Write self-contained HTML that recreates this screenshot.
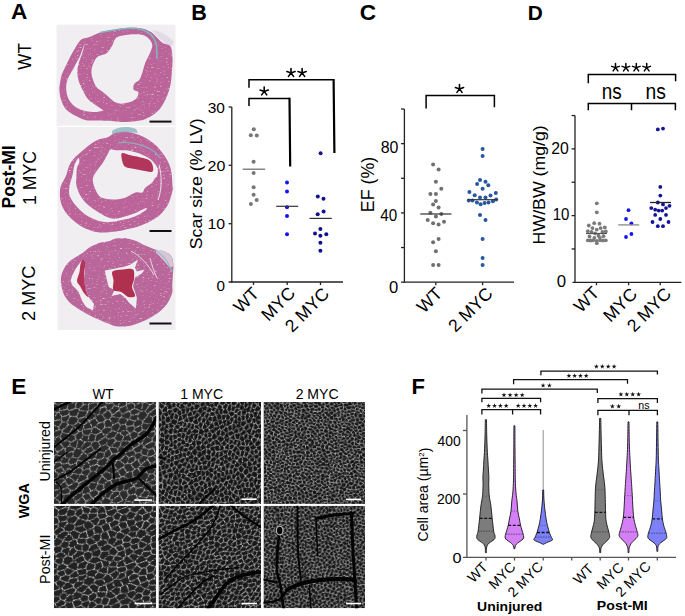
<!DOCTYPE html><html><head><meta charset="utf-8"><title>Figure</title><style>html,body{margin:0;padding:0;background:#fff;width:685px;height:616px;overflow:hidden}svg{display:block}text{font-family:"Liberation Sans",sans-serif}</style></head><body>
<svg width="685" height="616" viewBox="0 0 685 616">
<rect width="685" height="616" fill="#fff"/>
<rect x="56.6" y="24.7" width="118.8" height="101" fill="#f0eef1"/>
<rect x="57.6" y="127" width="117.8" height="203" fill="#f0eef1"/>
<defs><filter id="tex" x="0" y="0" width="1" height="1" color-interpolation-filters="sRGB"><feTurbulence type="fractalNoise" baseFrequency="0.35 0.7" numOctaves="2" seed="2" result="n"/><feColorMatrix in="n" type="matrix" values="0 0 0 0 1 0 0 0 0 0.93 0 0 0 0 0.97 2.6 0 0 0 -1.62" result="w"/><feComposite in="w" in2="SourceAlpha" operator="in" result="ws"/><feMerge><feMergeNode in="SourceGraphic"/><feMergeNode in="ws"/></feMerge></filter></defs>
<path d="M59.9 84.0 C60.3 81.4 60.8 77.6 61.8 74.6 C62.8 71.6 64.2 69.0 65.7 65.9 C67.2 62.8 69.0 59.2 70.6 56.1 C72.2 53.0 73.7 50.1 75.5 47.4 C77.3 44.6 79.2 41.2 81.3 39.6 C83.4 38.0 85.5 38.6 88.1 37.6 C90.7 36.6 94.1 34.8 96.9 33.7 C99.7 32.7 101.5 32.0 104.7 31.3 C107.9 30.6 112.5 30.1 116.0 29.5 C119.5 28.9 121.7 28.2 125.7 28.0 C129.8 27.8 136.2 27.7 140.3 28.3 C144.4 28.9 147.3 30.0 150.1 31.5 C152.9 33.0 154.8 35.6 156.9 37.5 C159.0 39.4 160.4 41.5 162.7 43.0 C165.0 44.5 168.9 43.9 170.5 46.4 C172.1 48.9 172.2 54.2 172.5 58.1 C172.8 62.0 172.3 65.6 172.0 70.0 C171.7 74.4 171.4 80.0 170.5 84.6 C169.6 89.1 168.4 93.2 166.6 97.3 C164.8 101.3 162.6 105.7 159.8 108.9 C157.1 112.1 153.3 114.8 150.1 116.7 C146.8 118.7 144.4 119.7 140.3 120.6 C136.2 121.5 129.8 122.0 125.7 122.1 C121.7 122.2 121.1 121.7 116.0 121.4 C110.9 121.2 100.1 120.8 95.0 120.6 C89.9 120.4 88.5 120.9 85.2 120.1 C82.0 119.3 78.8 117.7 75.5 115.8 C72.2 113.9 68.1 111.7 65.7 108.9 C63.3 106.1 62.0 102.4 60.9 99.2 C59.8 96.0 59.6 92.5 59.4 90.0 C59.2 87.5 59.5 86.6 59.9 84.0Z" fill="#ba649a" filter="url(#tex)"/>
<path d="M116.0 38.0 C118.3 36.2 121.7 35.6 125.7 35.0 C129.8 34.4 136.6 34.1 140.3 34.6 C144.0 35.1 146.1 36.4 148.1 38.0 C150.1 39.6 151.7 42.5 152.2 44.5 C152.7 46.5 151.9 47.9 151.2 50.0 C150.5 52.1 149.1 54.9 148.1 57.1 C147.1 59.3 146.2 60.4 145.2 63.0 C144.2 65.6 143.3 69.9 142.3 72.7 C141.3 75.5 140.7 77.9 139.4 79.7 C138.1 81.5 135.5 82.0 134.5 83.6 C133.5 85.2 132.8 88.0 133.5 89.5 C134.2 91.0 138.1 90.8 138.4 92.4 C138.7 94.0 137.6 97.4 135.5 99.2 C133.4 101.0 128.9 102.5 125.7 103.1 C122.5 103.7 119.5 104.2 116.0 102.6 C112.5 101.0 107.9 95.9 104.7 93.4 C101.5 90.9 98.9 89.8 96.9 87.5 C95.0 85.2 93.9 82.6 93.0 79.7 C92.1 76.8 91.2 73.1 91.5 70.0 C91.8 66.9 93.3 63.3 94.5 61.0 C95.7 58.7 96.8 57.4 98.8 56.1 C100.8 54.8 104.4 54.9 106.6 53.2 C108.8 51.5 110.4 48.5 112.0 46.0 C113.6 43.5 113.7 39.8 116.0 38.0Z" fill="#f0eef1" />
<path d="M84.7 43.5 C84.4 43.8 81.5 52.3 80.3 55.2 C79.1 58.1 78.7 58.5 77.4 61.0 C76.1 63.5 74.2 66.9 72.6 70.0 C70.9 73.1 68.6 76.5 67.5 79.7 C66.4 83.0 66.0 86.2 66.2 89.5 C66.4 92.8 67.2 96.3 68.7 99.2 C70.2 102.1 72.8 105.0 75.5 107.0 C78.2 109.0 82.0 110.1 85.2 110.9 C88.5 111.7 92.2 111.9 95.0 111.9 C97.8 111.9 100.5 111.2 101.8 110.9 C103.1 110.6 103.5 110.7 102.7 109.9 C101.9 109.1 99.3 107.8 96.9 106.0 C94.5 104.2 90.5 102.0 88.1 99.2 C85.7 96.5 83.9 92.8 82.3 89.5 C80.7 86.2 79.2 83.0 78.4 79.7 C77.6 76.5 77.2 73.1 77.4 70.0 C77.6 66.9 78.6 63.8 79.4 61.0 C80.2 58.2 81.4 56.1 82.3 53.2 C83.2 50.3 85.0 43.2 84.7 43.5Z" fill="#f0eef1" />
<path d="M152 30 C160 31 168 35 174 42 L172 46 C166 44 160 40 156 35Z" fill="#e2dbe5"/>
<path d="M100 32.5 C108 31 118 29 129.5 28.3 C138 28 144 30 148 32.5 C152 35 155 39 156.5 45 L157 59" fill="none" stroke="#80b5be" stroke-width="1.6"/>
<path d="M60.9 186.0 C61.9 182.8 64.4 179.8 65.7 176.6 C67.0 173.4 67.6 169.7 68.7 166.9 C69.8 164.2 71.0 162.2 72.6 160.1 C74.2 158.0 76.3 156.1 78.4 154.2 C80.5 152.2 82.8 150.3 85.2 148.4 C87.6 146.5 90.6 144.2 93.0 142.6 C95.4 141.0 97.4 140.0 99.8 139.1 C102.2 138.2 104.9 138.3 107.6 137.2 C110.3 136.1 113.0 133.4 116.0 132.5 C119.0 131.6 122.5 131.3 125.7 131.5 C128.9 131.7 132.2 132.8 135.5 133.8 C138.8 134.8 141.9 135.9 145.2 137.7 C148.4 139.5 152.1 141.9 155.0 144.5 C157.9 147.1 160.4 150.2 162.7 153.3 C165.0 156.4 167.1 159.8 168.6 163.0 C170.1 166.2 170.8 168.9 171.5 172.7 C172.2 176.5 172.3 183.0 172.5 186.0 C172.7 189.0 173.2 187.7 172.5 190.6 C171.8 193.5 170.4 199.6 168.6 203.3 C166.8 207.0 164.4 210.2 161.8 213.0 C159.2 215.8 156.6 217.7 153.0 219.8 C149.4 221.9 144.9 224.1 140.3 225.7 C135.8 227.3 129.8 228.6 125.7 229.6 C121.7 230.6 120.3 231.0 116.0 231.5 C111.7 232.0 104.5 232.8 99.8 232.5 C95.1 232.2 91.8 231.1 88.1 229.6 C84.4 228.1 80.8 226.1 77.4 223.7 C74.0 221.3 70.3 218.1 67.7 215.0 C65.1 211.9 63.1 208.4 61.8 205.2 C60.5 201.9 60.0 198.7 59.9 195.5 C59.8 192.3 59.9 189.2 60.9 186.0Z" fill="#ba649a" filter="url(#tex)"/>
<path d="M116.0 150.3 C118.5 150.5 122.5 150.0 125.7 150.3 C128.9 150.6 132.6 151.5 135.5 152.3 C138.4 153.1 140.9 154.1 143.3 155.2 C145.7 156.3 148.2 157.6 150.1 159.1 C152.0 160.6 153.7 162.2 155.0 164.0 C156.3 165.8 157.6 167.7 157.9 169.8 C158.2 171.9 157.4 175.2 156.9 176.6 C156.4 178.0 155.8 177.0 155.0 178.0 C154.2 179.0 153.6 181.2 152.0 182.8 C150.4 184.4 146.8 186.1 145.2 187.7 C143.6 189.3 143.9 191.8 142.3 192.6 C140.7 193.4 138.3 191.8 135.5 192.6 C132.7 193.4 128.9 196.3 125.7 197.4 C122.5 198.5 119.5 199.2 116.0 199.4 C112.5 199.6 107.6 199.1 104.7 198.4 C101.8 197.8 100.6 197.6 98.8 195.5 C97.0 193.4 95.0 188.9 94.0 186.0 C93.0 183.1 92.5 180.5 93.0 178.0 C93.5 175.5 95.3 173.3 96.9 170.8 C98.5 168.3 100.9 165.8 102.7 163.0 C104.5 160.2 106.3 156.5 107.6 154.2 C108.9 151.9 109.1 150.1 110.5 149.4 C111.9 148.8 113.5 150.2 116.0 150.3Z" fill="#f0eef1" />
<path d="M78.4 158.1 C77.6 158.6 75.5 162.2 74.5 165.0 C73.5 167.8 73.4 171.2 72.6 174.7 C71.8 178.1 70.1 182.2 69.6 185.7 C69.1 189.2 68.6 192.2 69.6 195.5 C70.6 198.8 73.2 202.3 75.5 205.2 C77.8 208.1 80.4 210.7 83.3 213.0 C86.2 215.3 89.8 217.3 93.0 218.8 C96.2 220.3 99.5 221.3 102.7 221.8 C106.0 222.3 109.0 222.2 112.5 221.8 C116.0 221.4 120.2 220.4 124.0 219.5 C127.8 218.6 131.8 217.8 135.5 216.2 C139.2 214.6 144.4 211.3 146.0 210.0 C147.6 208.7 146.8 208.0 145.0 208.5 C143.2 209.0 139.0 211.6 135.5 213.0 C132.0 214.4 127.5 215.8 124.0 216.8 C120.5 217.8 117.6 219.0 114.4 218.8 C111.2 218.7 107.9 217.4 104.7 215.9 C101.5 214.4 98.1 212.2 95.0 210.1 C91.9 208.0 88.7 205.7 86.2 203.3 C83.8 200.9 81.9 198.4 80.3 195.5 C78.7 192.6 77.2 188.9 76.5 185.7 C75.8 182.4 76.3 178.9 76.4 176.0 C76.5 173.1 76.5 170.3 77.0 168.0 C77.5 165.7 79.2 163.7 79.4 162.0 C79.6 160.3 79.2 157.6 78.4 158.1Z" fill="#f0eef1" />
<path d="M121.8 153.3 C123.1 152.0 127.0 154.4 130.6 155.2 C134.2 156.0 140.1 157.1 143.3 158.1 C146.6 159.1 148.5 159.6 150.1 161.1 C151.7 162.6 152.7 165.1 153.0 166.9 C153.3 168.7 153.6 171.2 152.0 171.8 C150.4 172.5 146.4 171.3 143.3 170.8 C140.2 170.3 136.4 169.5 133.5 168.8 C130.6 168.2 127.5 167.9 125.7 166.9 C123.9 165.9 123.5 165.3 122.8 163.0 C122.1 160.7 120.5 154.6 121.8 153.3Z" fill="#b2355b" />
<path d="M112 131 C118 126.5 128 126 136 129 L138 133 C130 132 120 132 112 134Z" fill="#8cb4bf" opacity="0.8"/>
<path d="M118 143 C130 141 145 145 155 152 L160 158" fill="none" stroke="#8cb8c2" stroke-width="1.2" opacity="0.8"/>
<path d="M159 165 C162 175 162 190 158 200" fill="none" stroke="#f0eef1" stroke-width="1" opacity="0.9"/>
<path d="M60.9 278.7 C61.1 274.9 62.5 271.8 63.8 269.0 C65.1 266.2 66.8 264.1 68.7 262.2 C70.7 260.2 73.1 258.9 75.5 257.3 C77.9 255.7 80.7 254.2 83.3 252.4 C85.9 250.6 88.2 248.2 91.0 246.6 C93.8 245.0 96.9 243.6 99.8 242.7 C102.7 241.8 105.9 242.0 108.6 241.3 C111.3 240.6 113.2 239.0 116.0 238.5 C118.8 238.0 122.5 237.8 125.7 238.2 C128.9 238.6 132.2 239.6 135.5 240.8 C138.8 242.0 141.9 244.2 145.2 245.6 C148.4 247.0 151.8 248.5 155.0 249.5 C158.2 250.5 161.9 250.3 164.7 251.5 C167.4 252.7 170.1 254.1 171.5 256.4 C172.9 258.7 173.2 261.9 173.4 265.1 C173.6 268.3 173.0 272.5 172.8 275.8 C172.6 279.1 172.5 281.9 172.3 285.0 C172.1 288.1 173.1 290.6 171.8 294.3 C170.5 298.0 168.2 303.1 164.5 307.1 C160.8 311.1 155.4 315.1 149.9 318.1 C144.4 321.2 137.2 324.0 131.6 325.4 C125.9 326.8 119.8 326.5 116.0 326.2 C112.2 325.9 111.8 324.9 108.6 323.6 C105.4 322.4 100.8 320.5 96.9 318.7 C93.0 316.9 88.8 314.8 85.2 312.9 C81.6 311.0 78.4 309.2 75.5 307.1 C72.6 305.0 69.8 302.8 67.7 300.2 C65.6 297.6 63.9 295.1 62.8 291.5 C61.7 287.9 60.7 282.4 60.9 278.7Z" fill="#b9669b" filter="url(#tex)"/>
<path d="M156 249.5 C163 250 169 253 172 257 L173.5 266 L170 268 C165 262 160 256 156 253Z" fill="#dcd0dc" opacity="0.9"/>
<path d="M155 250 C163 255 169 262 172 272" fill="none" stroke="#8fbcc6" stroke-width="1.4" opacity="0.8"/>
<path d="M104.8 270.6 L115.5 268.6 L124.2 266.7 L130.1 264.7 L137.9 259.4 L135.0 267.7 L136.9 271.6 L144.7 269.6 L141.8 273.5 L135.0 277.4 L133.0 286.2 L135.0 292.0 L136.9 297.8 L135.9 308.6 L129.1 302.7 L125.2 297.8 L120.3 294.0 L111.6 295.9 L114.5 290.0 L108.7 287.1 L106.7 279.3Z" fill="#f0eef1" />
<path d="M112.6 271.6 C114.2 269.8 119.9 269.9 123.3 269.6 C126.7 269.3 131.2 268.0 133.0 269.6 C134.8 271.2 134.2 276.4 134.0 279.3 C133.8 282.2 131.8 284.3 132.0 287.1 C132.2 289.9 135.7 294.3 135.0 295.9 C134.3 297.5 130.4 297.5 128.1 296.9 C125.8 296.2 123.7 293.1 121.3 292.0 C118.9 290.9 114.8 291.9 113.5 290.0 C112.2 288.1 113.7 283.4 113.5 280.3 C113.3 277.2 111.0 273.4 112.6 271.6Z" fill="#b0304f" />
<path d="M70.6 280.8 L72.6 285.6 L78.4 291.5 L82.3 301.2 L86.2 307.1 L93.0 310.5 L94.0 304.1 L88.1 296.3 L85.2 289.5 L84.0 280.0 L85.2 264.1 L83.3 259.3 L80.3 262.2 L75.5 269.0 L72.0 276.0Z" fill="#f3eef2" />
<path d="M83.3 259.3 C84.1 259.3 85.1 261.5 85.2 264.1 C85.3 266.7 84.0 270.9 84.0 275.0 C84.0 279.1 84.8 285.3 85.5 289.0 C86.2 292.7 88.8 296.3 88.5 297.0 C88.2 297.7 85.4 294.8 84.0 293.0 C82.6 291.2 81.2 288.0 80.0 286.0 C78.8 284.0 77.1 283.3 77.0 281.0 C76.9 278.7 78.9 274.8 79.5 272.0 C80.1 269.2 79.9 266.1 80.5 264.0 C81.1 261.9 82.5 259.3 83.3 259.3Z" fill="#b3345a" />
<path d="M131 251 C140 256 148 264 154 275 M150 258 C152 266 154 272 157 278" fill="none" stroke="#e9dfe8" stroke-width="1" opacity="0.9"/>
<rect x="149.5" y="120.6" width="22" height="2" fill="#111"/>
<rect x="149.5" y="230.0" width="22" height="2" fill="#111"/>
<rect x="149.5" y="322.5" width="22" height="2" fill="#111"/>
<line x1="231.8" y1="107" x2="231.8" y2="282.65" stroke="#222" stroke-width="1.3"/>
<line x1="228.60000000000002" y1="107" x2="231.8" y2="107" stroke="#222" stroke-width="1.3"/>
<line x1="228.60000000000002" y1="165.3" x2="231.8" y2="165.3" stroke="#222" stroke-width="1.3"/>
<line x1="228.60000000000002" y1="223.7" x2="231.8" y2="223.7" stroke="#222" stroke-width="1.3"/>
<line x1="228.6" y1="282" x2="343" y2="282" stroke="#222" stroke-width="1.3"/>
<line x1="253.5" y1="282" x2="253.5" y2="285.0" stroke="#222" stroke-width="1.3"/>
<line x1="287.2" y1="282" x2="287.2" y2="285.0" stroke="#222" stroke-width="1.3"/>
<line x1="320.5" y1="282" x2="320.5" y2="285.0" stroke="#222" stroke-width="1.3"/>
<path d="M249.0 87.7 V79.7 H334.2" fill="none" stroke="#000" stroke-width="1.5"/>
<path d="M249.0 105.9 V98.4 H289.8" fill="none" stroke="#000" stroke-width="1.5"/>
<path d="M333.6 79.0 L334.4 153.0 M289.5 97.7 L290.2 166.5" fill="none" stroke="#000" stroke-width="2.2"/>
<path d="M291.00 72.90L291.00 68.60M291.00 72.90L295.09 71.57M291.00 72.90L293.53 76.38M291.00 72.90L288.47 76.38M291.00 72.90L286.91 71.57" stroke="#000" stroke-width="1.6" stroke-linecap="round" fill="none"/>
<path d="M302.10 72.90L302.10 68.60M302.10 72.90L306.19 71.57M302.10 72.90L304.63 76.38M302.10 72.90L299.57 76.38M302.10 72.90L298.01 71.57" stroke="#000" stroke-width="1.6" stroke-linecap="round" fill="none"/>
<path d="M264.20 91.40L264.20 87.10M264.20 91.40L268.29 90.07M264.20 91.40L266.73 94.88M264.20 91.40L261.67 94.88M264.20 91.40L260.11 90.07" stroke="#000" stroke-width="1.6" stroke-linecap="round" fill="none"/>
<circle cx="253.8" cy="129.3" r="2.0" fill="#777777"/>
<circle cx="250.8" cy="135.3" r="2.0" fill="#777777"/>
<circle cx="256.8" cy="135.6" r="2.0" fill="#777777"/>
<circle cx="253.6" cy="161.8" r="2.0" fill="#777777"/>
<circle cx="253.6" cy="173.1" r="2.0" fill="#777777"/>
<circle cx="253.6" cy="187.2" r="2.0" fill="#777777"/>
<circle cx="253.6" cy="194.8" r="2.0" fill="#777777"/>
<circle cx="256.7" cy="200.0" r="2.0" fill="#777777"/>
<circle cx="250.9" cy="204.0" r="2.0" fill="#777777"/>
<circle cx="287.0" cy="182.4" r="2.0" fill="#1414f0"/>
<circle cx="287.0" cy="191.6" r="2.0" fill="#1414f0"/>
<circle cx="287.0" cy="207.3" r="2.0" fill="#1414f0"/>
<circle cx="287.0" cy="216.0" r="2.0" fill="#1414f0"/>
<circle cx="287.0" cy="234.3" r="2.0" fill="#1414f0"/>
<circle cx="320.6" cy="153.3" r="2.0" fill="#12128e"/>
<circle cx="317.8" cy="196.4" r="2.0" fill="#12128e"/>
<circle cx="323.5" cy="198.8" r="2.0" fill="#12128e"/>
<circle cx="323.6" cy="211.5" r="2.0" fill="#12128e"/>
<circle cx="317.7" cy="214.3" r="2.0" fill="#12128e"/>
<circle cx="320.4" cy="228.9" r="2.0" fill="#12128e"/>
<circle cx="315.0" cy="233.6" r="2.0" fill="#12128e"/>
<circle cx="320.4" cy="235.7" r="2.0" fill="#12128e"/>
<circle cx="326.3" cy="234.3" r="2.0" fill="#12128e"/>
<circle cx="320.4" cy="242.7" r="2.0" fill="#12128e"/>
<circle cx="320.4" cy="250.7" r="2.0" fill="#12128e"/>
<line x1="242.7" y1="169.2" x2="265.1" y2="169.2" stroke="#666" stroke-width="1.2"/>
<line x1="276.2" y1="206.3" x2="298.2" y2="206.3" stroke="#333" stroke-width="1.2"/>
<line x1="309.5" y1="218.4" x2="331.8" y2="218.4" stroke="#333" stroke-width="1.2"/>
<line x1="404.4" y1="109" x2="404.4" y2="282.84999999999997" stroke="#222" stroke-width="1.3"/>
<line x1="401.0" y1="247.56" x2="404.4" y2="247.56" stroke="#222" stroke-width="1.3"/>
<line x1="401.0" y1="212.92" x2="404.4" y2="212.92" stroke="#222" stroke-width="1.3"/>
<line x1="401.0" y1="178.27999999999997" x2="404.4" y2="178.27999999999997" stroke="#222" stroke-width="1.3"/>
<line x1="401.0" y1="143.64" x2="404.4" y2="143.64" stroke="#222" stroke-width="1.3"/>
<line x1="401.0" y1="109.0" x2="404.4" y2="109.0" stroke="#222" stroke-width="1.3"/>
<line x1="401.0" y1="282.2" x2="514" y2="282.2" stroke="#222" stroke-width="1.3"/>
<line x1="435.8" y1="282.2" x2="435.8" y2="285.2" stroke="#222" stroke-width="1.3"/>
<line x1="482.6" y1="282.2" x2="482.6" y2="285.2" stroke="#222" stroke-width="1.3"/>
<path d="M426.1 108.6 V95.6 H494.4 V107.2" fill="none" stroke="#000" stroke-width="1.5"/>
<path d="M459.50 88.90L459.50 84.60M459.50 88.90L463.59 87.57M459.50 88.90L462.03 92.38M459.50 88.90L456.97 92.38M459.50 88.90L455.41 87.57" stroke="#000" stroke-width="1.6" stroke-linecap="round" fill="none"/>
<circle cx="433.1" cy="164.4" r="2.0" fill="#6f6f6f"/>
<circle cx="438.6" cy="169.6" r="2.0" fill="#6f6f6f"/>
<circle cx="435.9" cy="181.7" r="2.0" fill="#6f6f6f"/>
<circle cx="441.3" cy="188.7" r="2.0" fill="#6f6f6f"/>
<circle cx="430.4" cy="194.0" r="2.0" fill="#6f6f6f"/>
<circle cx="435.9" cy="194.0" r="2.0" fill="#6f6f6f"/>
<circle cx="435.9" cy="201.0" r="2.0" fill="#6f6f6f"/>
<circle cx="433.1" cy="204.5" r="2.0" fill="#6f6f6f"/>
<circle cx="438.6" cy="207.6" r="2.0" fill="#6f6f6f"/>
<circle cx="430.4" cy="212.7" r="2.0" fill="#6f6f6f"/>
<circle cx="441.3" cy="214.0" r="2.0" fill="#6f6f6f"/>
<circle cx="435.9" cy="216.6" r="2.0" fill="#6f6f6f"/>
<circle cx="427.7" cy="219.9" r="2.0" fill="#6f6f6f"/>
<circle cx="433.1" cy="223.2" r="2.0" fill="#6f6f6f"/>
<circle cx="438.6" cy="224.6" r="2.0" fill="#6f6f6f"/>
<circle cx="444.0" cy="221.7" r="2.0" fill="#6f6f6f"/>
<circle cx="438.6" cy="239.0" r="2.0" fill="#6f6f6f"/>
<circle cx="433.1" cy="242.3" r="2.0" fill="#6f6f6f"/>
<circle cx="435.9" cy="251.3" r="2.0" fill="#6f6f6f"/>
<circle cx="433.1" cy="265.0" r="2.0" fill="#6f6f6f"/>
<circle cx="438.6" cy="265.0" r="2.0" fill="#6f6f6f"/>
<circle cx="482.6" cy="149.0" r="2.0" fill="#2757a2"/>
<circle cx="482.6" cy="156.0" r="2.0" fill="#2757a2"/>
<circle cx="480.0" cy="180.0" r="2.0" fill="#2757a2"/>
<circle cx="485.5" cy="181.7" r="2.0" fill="#2757a2"/>
<circle cx="477.1" cy="183.9" r="2.0" fill="#2757a2"/>
<circle cx="488.3" cy="185.2" r="2.0" fill="#2757a2"/>
<circle cx="482.6" cy="188.7" r="2.0" fill="#2757a2"/>
<circle cx="469.4" cy="192.0" r="2.0" fill="#2757a2"/>
<circle cx="495.8" cy="193.1" r="2.0" fill="#2757a2"/>
<circle cx="474.7" cy="195.3" r="2.0" fill="#2757a2"/>
<circle cx="490.5" cy="195.5" r="2.0" fill="#2757a2"/>
<circle cx="480.0" cy="197.5" r="2.0" fill="#2757a2"/>
<circle cx="485.5" cy="197.5" r="2.0" fill="#2757a2"/>
<circle cx="468.8" cy="200.4" r="2.0" fill="#2757a2"/>
<circle cx="472.5" cy="200.6" r="2.0" fill="#2757a2"/>
<circle cx="496.2" cy="199.5" r="2.0" fill="#2757a2"/>
<circle cx="492.9" cy="201.2" r="2.0" fill="#2757a2"/>
<circle cx="476.9" cy="202.6" r="2.0" fill="#2757a2"/>
<circle cx="480.6" cy="204.3" r="2.0" fill="#2757a2"/>
<circle cx="484.6" cy="203.0" r="2.0" fill="#2757a2"/>
<circle cx="488.5" cy="202.6" r="2.0" fill="#2757a2"/>
<circle cx="480.0" cy="215.0" r="2.0" fill="#2757a2"/>
<circle cx="485.5" cy="219.9" r="2.0" fill="#2757a2"/>
<circle cx="482.6" cy="239.0" r="2.0" fill="#2757a2"/>
<circle cx="482.6" cy="258.1" r="2.0" fill="#2757a2"/>
<circle cx="482.6" cy="265.1" r="2.0" fill="#2757a2"/>
<line x1="420.3" y1="214" x2="451.5" y2="214" stroke="#333" stroke-width="1.2"/>
<line x1="467.7" y1="199.7" x2="497.3" y2="199.7" stroke="#333" stroke-width="1.2"/>
<line x1="575.0" y1="115.6" x2="575.0" y2="282.95" stroke="#222" stroke-width="1.3"/>
<line x1="571.6" y1="248.95000000000002" x2="575.0" y2="248.95000000000002" stroke="#222" stroke-width="1.3"/>
<line x1="571.6" y1="215.60000000000002" x2="575.0" y2="215.60000000000002" stroke="#222" stroke-width="1.3"/>
<line x1="571.6" y1="182.25" x2="575.0" y2="182.25" stroke="#222" stroke-width="1.3"/>
<line x1="571.6" y1="148.9" x2="575.0" y2="148.9" stroke="#222" stroke-width="1.3"/>
<line x1="571.6" y1="115.55000000000001" x2="575.0" y2="115.55000000000001" stroke="#222" stroke-width="1.3"/>
<line x1="572.5" y1="282.3" x2="681.4" y2="282.3" stroke="#222" stroke-width="1.3"/>
<line x1="596.5" y1="282.3" x2="596.5" y2="285.3" stroke="#222" stroke-width="1.3"/>
<line x1="628.6" y1="282.3" x2="628.6" y2="285.3" stroke="#222" stroke-width="1.3"/>
<line x1="660.2" y1="282.3" x2="660.2" y2="285.3" stroke="#222" stroke-width="1.3"/>
<path d="M588.3 83.2 V74.6 H675.6 V81.2" fill="none" stroke="#000" stroke-width="1.5"/>
<path d="M588.3 110.2 V103.6 H675.4 V110.2 M631.5 103.6 V110.2" fill="none" stroke="#000" stroke-width="1.5"/>
<path d="M615.50 67.60L615.50 63.60M615.50 67.60L619.30 66.36M615.50 67.60L617.85 70.84M615.50 67.60L613.15 70.84M615.50 67.60L611.70 66.36" stroke="#000" stroke-width="1.5" stroke-linecap="round" fill="none"/>
<path d="M625.90 67.60L625.90 63.60M625.90 67.60L629.70 66.36M625.90 67.60L628.25 70.84M625.90 67.60L623.55 70.84M625.90 67.60L622.10 66.36" stroke="#000" stroke-width="1.5" stroke-linecap="round" fill="none"/>
<path d="M636.30 67.60L636.30 63.60M636.30 67.60L640.10 66.36M636.30 67.60L638.65 70.84M636.30 67.60L633.95 70.84M636.30 67.60L632.50 66.36" stroke="#000" stroke-width="1.5" stroke-linecap="round" fill="none"/>
<path d="M646.70 67.60L646.70 63.60M646.70 67.60L650.50 66.36M646.70 67.60L649.05 70.84M646.70 67.60L644.35 70.84M646.70 67.60L642.90 66.36" stroke="#000" stroke-width="1.5" stroke-linecap="round" fill="none"/>
<circle cx="596.8" cy="203.3" r="1.9" fill="#7a7a7a"/>
<circle cx="596.8" cy="212.3" r="1.9" fill="#7a7a7a"/>
<circle cx="594.2" cy="223.2" r="1.9" fill="#7a7a7a"/>
<circle cx="599.5" cy="223.7" r="1.9" fill="#7a7a7a"/>
<circle cx="588.8" cy="225.5" r="1.9" fill="#7a7a7a"/>
<circle cx="592.5" cy="228.1" r="1.9" fill="#7a7a7a"/>
<circle cx="600.7" cy="228.1" r="1.9" fill="#7a7a7a"/>
<circle cx="604.8" cy="227.4" r="1.9" fill="#7a7a7a"/>
<circle cx="596.8" cy="229.6" r="1.9" fill="#7a7a7a"/>
<circle cx="587.8" cy="231.2" r="1.9" fill="#7a7a7a"/>
<circle cx="591.5" cy="232.0" r="1.9" fill="#7a7a7a"/>
<circle cx="595.1" cy="233.3" r="1.9" fill="#7a7a7a"/>
<circle cx="602.4" cy="232.0" r="1.9" fill="#7a7a7a"/>
<circle cx="605.8" cy="231.5" r="1.9" fill="#7a7a7a"/>
<circle cx="598.5" cy="235.7" r="1.9" fill="#7a7a7a"/>
<circle cx="594.4" cy="237.8" r="1.9" fill="#7a7a7a"/>
<circle cx="599.8" cy="237.8" r="1.9" fill="#7a7a7a"/>
<circle cx="587.8" cy="240.3" r="1.9" fill="#7a7a7a"/>
<circle cx="590.5" cy="240.5" r="1.9" fill="#7a7a7a"/>
<circle cx="593.2" cy="240.3" r="1.9" fill="#7a7a7a"/>
<circle cx="596.8" cy="240.8" r="1.9" fill="#7a7a7a"/>
<circle cx="600.2" cy="240.3" r="1.9" fill="#7a7a7a"/>
<circle cx="603.0" cy="240.5" r="1.9" fill="#7a7a7a"/>
<circle cx="605.8" cy="240.3" r="1.9" fill="#7a7a7a"/>
<circle cx="596.8" cy="243.2" r="1.9" fill="#7a7a7a"/>
<circle cx="589.5" cy="236.5" r="1.9" fill="#7a7a7a"/>
<circle cx="603.5" cy="236.2" r="1.9" fill="#7a7a7a"/>
<circle cx="628.5" cy="210.2" r="1.9" fill="#1414f0"/>
<circle cx="626.0" cy="219.0" r="1.9" fill="#1414f0"/>
<circle cx="631.4" cy="223.3" r="1.9" fill="#1414f0"/>
<circle cx="631.4" cy="234.0" r="1.9" fill="#1414f0"/>
<circle cx="626.0" cy="237.0" r="1.9" fill="#1414f0"/>
<circle cx="657.8" cy="129.4" r="1.9" fill="#12129a"/>
<circle cx="663.0" cy="128.6" r="1.9" fill="#12129a"/>
<circle cx="660.3" cy="186.9" r="1.9" fill="#12129a"/>
<circle cx="660.3" cy="195.6" r="1.9" fill="#12129a"/>
<circle cx="657.8" cy="202.5" r="1.9" fill="#12129a"/>
<circle cx="663.0" cy="204.4" r="1.9" fill="#12129a"/>
<circle cx="669.5" cy="205.8" r="1.9" fill="#12129a"/>
<circle cx="651.3" cy="208.1" r="1.9" fill="#12129a"/>
<circle cx="655.2" cy="209.7" r="1.9" fill="#12129a"/>
<circle cx="658.7" cy="210.6" r="1.9" fill="#12129a"/>
<circle cx="662.2" cy="210.6" r="1.9" fill="#12129a"/>
<circle cx="666.0" cy="208.1" r="1.9" fill="#12129a"/>
<circle cx="655.2" cy="214.9" r="1.9" fill="#12129a"/>
<circle cx="666.0" cy="214.9" r="1.9" fill="#12129a"/>
<circle cx="660.3" cy="219.0" r="1.9" fill="#12129a"/>
<circle cx="652.5" cy="222.0" r="1.9" fill="#12129a"/>
<circle cx="668.5" cy="222.0" r="1.9" fill="#12129a"/>
<circle cx="657.8" cy="226.2" r="1.9" fill="#12129a"/>
<circle cx="663.0" cy="226.2" r="1.9" fill="#12129a"/>
<line x1="586" y1="233.5" x2="607" y2="233.5" stroke="#555" stroke-width="1.2"/>
<line x1="618.2" y1="224.9" x2="639.2" y2="224.9" stroke="#888" stroke-width="1.3"/>
<line x1="650" y1="202.5" x2="671" y2="202.5" stroke="#222" stroke-width="1.3"/>
<defs>
<pattern id="p0" width="60" height="60" patternUnits="userSpaceOnUse" patternTransform="translate(54.0 401.9) rotate(-30) scale(1.25 0.95)"><use href="#tc"/></pattern>
<pattern id="p1" width="52" height="52" patternUnits="userSpaceOnUse" patternTransform="translate(158.5 401.9) rotate(-70) scale(1.15 0.95)"><use href="#tm"/></pattern>
<pattern id="p2" width="52" height="52" patternUnits="userSpaceOnUse" patternTransform="translate(263.5 401.9) rotate(10) scale(1.05 0.9)"><use href="#tf"/></pattern>
<pattern id="p3" width="60" height="60" patternUnits="userSpaceOnUse" patternTransform="translate(54.0 505.8) rotate(-20) scale(1.3 0.95)"><use href="#tc"/></pattern>
<pattern id="p4" width="52" height="52" patternUnits="userSpaceOnUse" patternTransform="translate(158.5 505.8) rotate(-35) scale(1.2 0.95)"><use href="#tm"/></pattern>
<pattern id="p5" width="52" height="52" patternUnits="userSpaceOnUse" patternTransform="translate(263.5 505.8) rotate(0) scale(1.0 1.0)"><use href="#tf"/></pattern>
<path id="tf" d="M21.9 16.0L22.8 13.1M21.9 16.0L18.8 15.0M22.8 13.1L20.3 10.7M18.8 15.0L18.8 11.4M18.8 11.4L20.3 10.7M16.3 10.4L18.8 11.4M16.3 10.4L15.2 11.1M15.2 11.1L15.0 14.6M18.3 15.4L15.0 14.6M18.3 15.4L18.8 15.0M20.7 31.0L23.8 29.4M20.7 31.0L19.4 28.8M19.4 28.8L21.2 26.7M21.2 26.7L22.6 26.8M22.6 26.8L23.8 29.4M36.8 18.2L37.1 20.8M36.8 18.2L34.9 16.8M33.7 21.6L33.0 18.7M33.7 21.6L34.8 22.3M33.0 18.7L34.6 16.9M34.9 16.8L34.6 16.9M37.1 20.8L34.8 22.3M33.7 21.6L29.6 22.4M29.6 22.4L30.7 24.9M34.8 22.3L34.9 23.9M34.9 23.9L33.2 25.4M30.7 24.9L33.2 25.4M34.1 29.7L35.9 29.2M34.1 29.7L33.2 29.0M35.9 29.2L37.4 26.0M37.4 26.0L34.9 23.9M33.2 25.4L33.2 29.0M2.6 41.8L5.0 40.8M2.6 41.8L3.3 44.6M5.0 40.8L7.0 43.3M3.3 44.6L6.5 44.9M7.0 43.3L6.5 44.9M5.8 38.7L5.0 40.8M5.8 38.7L8.6 38.7M8.6 38.7L9.9 39.9M7.0 43.3L9.6 41.8M9.6 41.8L9.9 39.9M16.3 10.4L16.0 7.0M20.2 6.8L20.9 9.8M20.2 6.8L16.6 6.2M20.9 9.8L20.3 10.7M16.6 6.2L16.0 7.0M22.5 18.3L18.6 19.7M22.5 18.3L23.0 19.0M23.0 19.0L22.7 22.4M22.7 22.4L20.9 22.8M20.9 22.8L18.5 21.1M18.6 19.7L18.5 21.1M22.5 18.3L22.4 16.8M22.4 16.8L21.9 16.0M18.3 15.4L17.3 18.4M18.6 19.7L17.3 18.4M33.0 18.7L30.0 18.2M29.6 22.4L29.4 22.3M30.0 18.2L29.4 22.3M22.4 16.8L26.1 15.3M23.0 19.0L25.9 19.3M25.9 19.3L27.8 17.4M26.1 15.3L27.8 17.4M32.1 14.4L34.6 16.9M32.1 14.4L30.7 14.5M30.0 18.2L29.4 17.4M30.7 14.5L29.4 17.4M22.8 13.1L25.5 12.0M26.1 15.3L26.5 12.9M25.5 12.0L26.5 12.9M20.9 9.8L23.3 9.3M23.3 9.3L25.5 11.6M25.5 12.0L25.5 11.6M30.7 14.5L29.3 12.7M27.8 17.4L29.4 17.4M26.5 12.9L29.3 12.7M20.2 6.8L21.1 6.0M19.6 2.3L16.6 3.6M19.6 2.3L20.7 2.7M16.6 3.6L16.6 6.2M21.1 6.0L20.7 2.7M23.4 23.0L27.4 22.3M23.4 23.0L23.7 25.4M23.7 25.4L26.8 26.1M26.8 26.1L27.8 22.5M27.4 22.3L27.8 22.5M22.7 22.4L23.4 23.0M25.9 19.3L27.4 22.3M21.2 26.7L19.8 24.8M19.8 24.8L20.9 22.8M22.6 26.8L23.7 25.4M29.4 22.3L27.8 22.5M25.2 31.1L27.2 31.8M25.2 31.1L24.5 29.6M24.5 29.6L27.4 27.3M27.2 31.8L29.1 30.7M29.1 30.7L29.7 28.9M27.4 27.3L29.1 28.0M29.7 28.9L29.1 28.0M20.5 32.5L22.1 34.0M20.5 32.5L20.7 31.0M22.1 34.0L23.5 33.7M23.5 33.7L25.2 31.1M23.8 29.4L24.5 29.6M26.8 26.1L27.4 27.3M33.7 32.8L34.1 29.7M33.7 32.8L30.7 33.0M30.7 33.0L29.1 30.7M33.2 29.0L29.7 28.9M30.7 24.9L29.1 28.0M1.5 46.4L3.5 48.4M1.5 46.4L3.3 44.6M6.9 45.7L6.5 44.9M6.9 45.7L5.7 48.0M5.7 48.0L3.5 48.4M33.7 32.8L34.0 33.4M34.0 33.4L32.1 37.1M30.7 33.0L29.8 34.9M32.1 37.1L29.8 34.9M27.2 31.8L27.3 35.3M29.8 34.9L27.3 35.3M23.5 33.7L26.8 35.9M26.8 35.9L27.3 35.3M8.6 38.7L9.4 34.8M13.3 35.4L12.8 39.0M13.3 35.4L10.2 34.2M9.9 39.9L12.8 39.0M9.4 34.8L10.2 34.2M19.6 2.3L19.0 -1.1M16.3 -1.6L14.7 1.7M14.7 1.7L16.6 3.6M20.7 2.7L21.8 2.3M21.8 2.3L22.7 0.0M22.7 0.0L21.5 -1.5M3.0 -0.7L4.9 0.3M7.0 -1.8L5.9 -0.0M4.9 0.3L5.9 -0.0M34.0 33.4L35.9 34.3M35.9 34.3L38.7 33.1M35.9 29.2L38.7 31.1M38.7 31.1L38.7 33.1M38.7 31.1L40.5 29.7M39.8 34.1L38.7 33.1M39.8 34.1L42.7 33.5M42.7 33.5L43.4 32.4M43.4 32.4L43.0 30.7M40.5 29.7L43.0 30.7M44.4 37.0L47.2 33.8M44.4 37.0L42.7 33.5M43.4 32.4L46.8 32.8M47.2 33.8L46.8 32.8M43.0 43.0L42.8 42.0M43.0 43.0L46.8 43.1M42.8 42.0L44.8 38.4M44.8 38.4L46.8 39.2M46.8 39.2L46.8 43.1M11.0 -0.2L8.6 2.1M11.0 -0.2L13.8 1.8M13.8 1.8L11.7 4.6M8.6 2.6L8.6 2.1M8.6 2.6L11.0 4.7M11.0 4.7L11.7 4.6M10.7 -1.5L11.0 -0.2M5.9 -0.0L8.6 2.1M14.7 1.7L13.8 1.8M13.4 6.8L11.7 4.6M13.4 6.8L16.0 7.0M11.7 10.9L11.3 11.4M11.7 10.9L11.5 9.1M11.3 11.4L7.6 10.9M11.5 9.1L9.1 7.2M7.6 10.9L7.2 7.4M7.2 7.4L9.1 7.2M15.2 11.1L11.7 10.9M15.0 14.6L13.7 15.7M13.7 15.7L11.1 13.9M11.1 13.9L11.3 11.4M13.4 6.8L11.5 9.1M11.1 13.9L9.8 14.8M6.9 11.7L7.5 14.2M6.9 11.7L7.6 10.9M9.8 14.8L7.5 14.2M11.0 4.7L9.1 7.2M32.1 14.4L33.9 12.3M33.9 12.3L32.9 10.3M29.3 12.7L30.3 9.9M32.9 10.3L30.3 9.9M25.5 11.6L27.2 8.7M27.2 8.7L30.2 9.6M30.2 9.6L30.3 9.9M23.3 9.3L24.7 6.5M27.2 8.7L26.3 6.7M24.7 6.5L26.3 6.7M21.1 6.0L24.3 6.1M24.7 6.5L24.3 6.1M21.8 2.3L24.1 3.4M24.3 6.1L24.1 3.4M22.7 0.0L24.4 -0.2M24.4 -0.2L25.9 1.9M24.1 3.4L25.9 1.9M42.8 42.0L39.9 40.6M44.3 37.7L44.8 38.4M44.3 37.7L41.3 37.7M39.9 40.6L41.3 37.7M44.3 37.7L44.4 37.0M39.8 34.1L39.9 36.4M39.9 36.4L41.3 37.7M36.8 18.2L39.3 16.9M37.1 20.8L39.1 21.4M39.3 16.9L41.5 19.4M41.5 19.4L41.2 20.5M41.2 20.5L39.1 21.4M37.4 26.0L39.2 25.6M39.1 21.4L39.2 25.6M43.0 30.7L45.1 28.3M46.8 32.8L47.5 31.0M47.5 31.0L45.1 28.3M52.4 32.2L50.0 35.3M52.4 32.2L54.5 33.3M50.1 35.6L53.3 37.8M50.1 35.6L50.0 35.3M47.2 33.8L50.0 35.3M46.8 39.2L48.1 38.9M48.1 38.9L50.1 35.6M48.1 38.9L51.5 41.4M48.1 44.7L46.8 43.1M48.1 44.7L50.3 44.2M51.5 41.4L50.3 44.2M51.5 41.4L52.7 40.8M47.6 45.6L47.9 48.0M47.6 45.6L48.1 44.7M51.7 48.6L49.2 49.1M51.7 48.6L52.9 46.5M47.9 48.0L49.2 49.1M50.3 44.2L52.9 46.5M5.1 19.2L5.7 22.6M5.1 19.2L3.3 18.6M4.3 24.0L1.5 22.8M4.3 24.0L5.3 23.3M1.5 22.8L0.7 21.2M3.3 18.6L0.7 21.2M5.3 23.3L5.7 22.6M8.0 30.4L10.1 32.7M8.0 30.4L8.3 29.0M10.1 32.7L12.5 29.9M8.3 29.0L11.9 28.5M12.5 29.9L11.9 28.5M14.2 34.9L15.1 31.2M14.2 34.9L13.3 35.4M10.1 32.7L10.2 34.2M12.5 29.9L15.1 31.2M7.6 27.9L8.3 29.0M7.6 27.9L8.7 25.4M8.7 25.4L10.3 24.8M10.3 24.8L12.2 27.2M11.9 28.5L12.2 27.2M20.5 32.5L19.1 32.9M19.4 28.8L17.1 28.4M19.1 32.9L15.6 31.0M15.6 31.0L17.1 28.4M34.5 8.5L32.9 10.3M34.5 8.5L33.0 6.3M30.2 9.6L30.9 6.4M33.0 6.3L30.9 6.4M28.5 1.4L27.5 2.1M28.5 1.4L30.7 3.3M27.5 2.1L27.4 5.7M30.7 3.3L30.5 6.0M27.4 5.7L30.5 6.0M28.8 0.7L28.5 1.4M28.8 0.7L31.2 -1.1M31.2 -1.1L33.4 1.5M33.4 1.5L33.1 2.5M33.1 2.5L30.7 3.3M26.3 6.7L27.4 5.7M25.9 1.9L27.5 2.1M33.0 6.3L34.4 4.5M30.9 6.4L30.5 6.0M34.4 4.5L33.1 2.5M39.3 16.9L39.4 16.0M41.5 19.4L43.1 18.1M43.1 18.1L43.4 15.3M43.4 15.3L41.9 14.3M41.9 14.3L39.4 16.0M34.9 16.8L37.0 13.5M39.4 16.0L37.0 13.5M33.9 12.3L36.9 12.7M37.0 13.5L36.9 12.7M36.5 8.6L34.5 8.5M36.5 8.6L37.0 12.6M37.0 12.6L36.9 12.7M0.6 52.4L1.0 51.8M0.6 52.4L-2.9 52.4M1.0 51.8L-0.3 48.6M-2.8 49.1L-0.3 48.6M1.5 46.4L0.9 46.5M2.6 41.8L0.7 40.8M0.7 40.8L-0.5 41.4M-0.5 41.4L-1.7 44.2M-1.7 44.2L0.9 46.5M3.0 51.3L3.5 48.4M3.0 51.3L1.0 51.8M0.9 46.5L-0.3 48.6M3.0 51.3L4.9 52.3M5.7 48.0L7.0 50.2M4.9 52.3L5.9 52.0M7.0 50.2L5.9 52.0M6.9 45.7L9.3 46.6M9.3 46.6L9.7 49.7M7.0 50.2L9.7 49.7M14.2 34.9L17.1 36.0M12.8 39.0L14.8 40.6M14.8 40.6L16.7 40.1M16.7 40.1L17.1 36.0M19.1 32.9L17.2 36.0M15.6 31.0L15.1 31.2M17.2 36.0L17.1 36.0M22.1 34.0L21.4 37.5M17.2 36.0L21.4 37.5M48.9 52.5L49.1 52.4M49.1 52.4L52.6 52.4M53.0 51.8L51.7 48.6M49.2 49.1L49.1 52.4M47.9 48.0L44.8 50.3M48.9 52.5L45.3 51.3M45.3 51.3L44.8 50.3M45.3 51.3L44.5 54.6M4.9 0.3L4.3 4.1M8.6 2.6L6.0 5.1M4.3 4.1L6.0 5.1M7.2 7.4L6.6 7.1M6.6 7.1L6.0 5.1M6.9 11.7L4.8 11.7M6.6 7.1L3.4 9.1M4.8 11.7L3.4 9.1M4.3 4.1L4.1 4.1M4.1 4.1L1.7 6.6M1.7 6.6L2.1 8.9M3.4 9.1L2.1 8.9M6.6 34.4L5.4 32.2M6.6 34.4L4.7 37.2M5.4 32.2L2.5 33.3M2.5 33.3L3.2 36.8M4.7 37.2L3.2 36.8M8.0 30.4L5.5 31.7M9.4 34.8L6.6 34.4M5.5 31.7L5.4 32.2M5.8 38.7L4.7 37.2M1.3 37.8L0.7 40.8M1.3 37.8L3.2 36.8M5.5 31.7L4.2 29.5M7.6 27.9L5.1 27.4M4.2 29.5L5.1 27.4M4.3 24.0L4.1 25.8M5.3 23.3L8.7 25.4M5.1 27.4L4.1 25.8M0.4 32.2L2.5 33.3M0.4 32.2L-2.0 35.3M1.3 37.8L-1.9 35.6M-0.5 41.4L-3.9 38.9M28.8 0.7L26.7 -2.2M24.4 -0.2L25.5 -2.3M47.5 31.0L49.9 29.9M52.4 32.2L52.1 30.9M52.1 30.9L49.9 29.9M11.1 22.5L9.5 21.1M11.1 22.5L13.5 21.8M13.5 21.8L14.2 18.7M9.5 21.1L9.0 18.5M13.6 17.9L14.2 18.7M13.6 17.9L9.5 18.0M9.5 18.0L9.0 18.5M5.7 22.6L9.5 21.1M10.3 24.8L11.1 22.5M5.1 19.2L6.9 18.1M6.9 18.1L9.0 18.5M13.7 15.7L13.6 17.9M17.3 18.4L14.2 18.7M9.8 14.8L9.5 18.0M6.9 18.1L6.2 15.3M6.2 15.3L7.5 14.2M16.8 27.4L14.5 26.3M16.8 27.4L18.1 25.0M14.5 26.3L14.6 22.6M18.1 25.0L16.7 22.8M16.7 22.8L14.6 22.6M12.2 27.2L14.5 26.3M17.1 28.4L16.8 27.4M19.8 24.8L18.1 25.0M13.5 21.8L14.6 22.6M18.5 21.1L16.7 22.8M34.8 -2.6L36.8 -0.3M33.4 1.5L36.7 -0.1M36.8 -0.3L36.7 -0.1M36.8 -0.3L39.0 -1.1M19.6 43.0L18.8 41.0M19.6 43.0L24.0 42.2M18.8 41.0L21.6 37.9M24.0 42.2L24.0 42.2M24.0 42.2L22.7 38.4M22.7 38.4L21.6 37.9M16.7 40.1L18.8 41.0M21.4 37.5L21.6 37.9M26.6 37.1L28.1 39.5M26.6 37.1L22.7 38.4M28.1 39.5L26.3 41.9M26.3 41.9L24.0 42.2M26.8 35.9L26.6 37.1M13.8 47.5L15.7 45.1M13.8 47.5L11.0 45.6M11.4 43.8L14.2 42.9M11.4 43.8L11.0 45.6M14.2 42.9L15.7 45.1M9.3 46.6L11.0 45.6M9.7 49.7L10.7 50.5M10.7 50.5L13.8 48.4M13.8 48.4L13.8 47.5M9.6 41.8L11.4 43.8M14.8 40.6L14.2 42.9M19.6 43.0L19.5 43.2M15.7 45.1L16.8 45.2M19.5 43.2L16.8 45.2M23.9 45.3L21.3 46.4M23.9 45.3L24.0 42.2M19.5 43.2L21.3 46.4M32.1 37.1L32.3 38.3M28.1 39.5L30.8 39.8M32.3 38.3L30.8 39.8M26.3 41.9L27.9 44.4M30.6 44.1L27.9 44.4M30.6 44.1L31.4 42.3M30.8 39.8L31.4 42.3M43.3 49.6L40.4 51.4M43.3 49.6L42.9 46.5M38.6 47.3L41.4 45.5M38.6 47.3L39.0 50.9M39.0 50.9L40.4 51.4M42.9 46.5L41.9 45.5M41.9 45.5L41.4 45.5M44.8 50.3L43.3 49.6M41.2 53.8L40.4 51.4M47.6 45.6L42.9 46.5M35.6 45.9L35.9 44.2M35.6 45.9L38.6 47.3M35.9 44.2L38.8 43.1M38.8 43.1L41.4 45.5M43.0 43.0L41.9 45.5M39.9 40.6L39.4 40.8M38.8 43.1L39.4 40.8M6.2 15.3L4.4 15.0M4.8 11.7L3.6 13.3M4.4 15.0L3.6 13.3M3.3 18.6L2.8 17.2M4.4 15.0L2.8 17.2M1.3 27.3L1.2 29.7M1.3 27.3L-0.7 25.6M-2.1 29.9L0.1 30.9M0.1 30.9L1.2 29.7M4.2 29.5L1.2 29.7M4.1 25.8L1.3 27.3M1.5 22.8L-0.7 25.6M0.7 21.2L-1.0 20.5M0.4 32.2L0.1 30.9M-0.3 -3.4L1.0 -0.2M-2.9 0.4L0.6 0.4M1.0 -0.2L0.6 0.4M3.0 -0.7L1.0 -0.2M0.8 2.5L4.1 4.1M0.8 2.5L0.6 0.4M52.6 0.4L49.1 0.4M53.0 -0.2L51.7 -3.4M49.1 0.4L49.2 -2.9M45.1 27.5L45.4 27.1M45.1 27.5L40.6 26.5M45.4 27.1L44.4 22.9M40.6 26.5L40.4 26.1M40.4 26.1L43.3 22.7M43.3 22.7L44.4 22.9M45.1 28.3L45.1 27.5M49.9 29.9L49.1 26.1M49.1 26.1L45.4 27.1M40.5 29.7L40.6 26.5M39.2 25.6L40.4 26.1M41.2 20.5L43.3 22.7M52.1 30.9L53.2 29.7M34.4 4.5L37.1 4.6M36.7 -0.1L37.3 4.4M37.1 4.6L37.3 4.4M36.5 8.6L37.0 8.2M37.1 4.6L37.0 8.2M40.4 -0.6L41.2 1.8M41.2 1.8L39.9 4.3M37.3 4.4L39.9 4.3M0.6 52.4L0.8 54.5M4.9 52.3L4.3 56.1M23.9 45.3L25.3 46.3M27.9 44.4L27.3 45.7M25.3 46.3L27.3 45.7M37.6 39.8L35.7 40.7M37.6 39.8L37.5 37.6M35.7 40.7L33.3 38.5M33.3 38.5L36.2 36.7M36.2 36.7L37.5 37.6M35.9 44.2L35.2 43.1M39.4 40.8L37.6 39.8M35.2 43.1L35.7 40.7M39.9 36.4L37.5 37.6M35.2 43.1L31.4 42.3M32.3 38.3L33.3 38.5M35.9 34.3L36.2 36.7M36.8 51.7L36.7 51.9M36.8 51.7L39.0 50.9M36.7 51.9L37.3 56.4M3.6 13.3L0.8 13.0M2.8 17.2L0.4 16.2M0.8 13.0L0.4 16.2M2.1 8.9L1.2 9.6M1.2 9.6L0.6 12.7M0.8 13.0L0.6 12.7M-0.9 16.8L0.4 16.2M1.2 9.6L-1.5 8.8M0.6 12.7L-2.8 12.5M48.9 0.5L45.3 -0.7M48.9 0.5L48.3 3.2M45.3 -0.7L44.5 2.6M48.3 3.2L46.9 4.3M46.9 4.3L45.2 3.9M44.5 2.6L45.2 3.9M49.1 0.4L48.9 0.5M51.4 4.3L52.8 2.5M51.4 4.3L48.3 3.2M41.2 1.8L44.5 2.6M51.4 4.3L51.6 5.5M47.4 6.3L46.9 4.3M47.4 6.3L50.1 7.1M50.1 7.1L51.6 5.5M51.6 5.5L53.7 6.6M44.4 10.3L41.4 12.3M44.4 10.3L44.7 9.5M44.7 9.5L42.0 6.8M40.3 11.7L41.4 12.3M40.3 11.7L40.0 8.6M40.0 8.6L42.0 6.8M42.0 6.8L42.0 6.8M43.4 15.3L45.0 14.8M41.9 14.3L41.4 12.3M45.9 13.1L45.0 14.8M45.9 13.1L44.4 10.3M47.4 6.3L46.3 8.9M46.3 8.9L44.7 9.5M45.2 3.9L42.0 6.8M37.0 12.6L40.3 11.7M37.0 8.2L40.0 8.6M39.9 4.3L42.0 6.8M30.7 48.3L31.5 50.0M30.7 48.3L31.7 46.2M31.5 50.0L34.8 49.4M31.7 46.2L35.5 46.0M35.5 46.0L34.8 49.4M28.8 52.7L31.2 50.9M28.8 52.7L26.7 49.8M31.2 50.9L31.5 50.0M28.7 48.0L26.7 49.8M28.7 48.0L30.7 48.3M30.6 44.1L31.7 46.2M27.3 45.7L28.7 48.0M36.8 51.7L34.8 49.4M31.2 50.9L33.4 53.5M33.4 53.5L36.7 51.9M35.6 45.9L35.5 46.0M25.3 46.3L24.9 48.8M26.7 49.8L25.5 49.7M25.5 49.7L24.9 48.8M21.8 54.3L22.7 52.0M24.4 51.8L22.7 52.0M24.4 51.8L25.9 53.9M25.5 49.7L24.4 51.8M5.9 52.0L8.6 54.1M10.7 50.5L11.0 51.8M11.0 51.8L8.6 54.1M-1.9 7.1L-0.4 5.5M-0.6 4.3L-0.4 5.5M0.8 2.5L-0.6 4.3M1.7 6.6L-0.4 5.5M50.1 7.1L50.5 8.8M50.5 8.8L53.2 9.6M46.3 8.9L48.9 10.4M50.5 8.8L48.9 10.4M54.8 17.2L52.4 16.2M52.4 16.2L52.8 13.0M48.9 10.4L49.2 12.5M52.6 12.7L49.2 12.5M45.9 13.1L49.0 12.7M49.0 12.7L49.2 12.5M43.1 18.1L46.5 19.2M44.4 22.9L45.9 22.1M46.5 19.2L45.9 22.1M49.3 25.8L48.7 23.5M49.3 25.8L51.3 25.6M51.3 25.6L53.5 22.8M48.7 23.5L51.0 20.5M52.7 21.2L51.0 20.5M49.1 26.1L49.3 25.8M45.9 22.1L48.7 23.5M53.3 27.3L51.3 25.6M24.9 48.8L22.4 48.7M22.7 52.0L21.5 50.5M21.5 50.5L22.4 48.7M16.8 45.2L18.3 48.3M21.3 46.4L21.2 46.8M18.3 48.3L21.2 46.8M21.2 46.8L22.4 48.7M21.5 50.5L19.0 50.9M19.6 54.3L19.0 50.9M13.8 48.4L16.3 50.4M18.3 48.3L17.7 50.0M16.3 50.4L17.7 50.0M17.7 50.0L19.0 50.9M51.1 16.8L49.1 15.6M51.1 16.8L50.6 19.8M50.6 19.8L46.7 19.1M49.1 15.6L47.1 16.7M47.1 16.7L46.7 19.1M52.4 16.2L51.1 16.8M49.0 12.7L49.1 15.6M51.0 20.5L50.6 19.8M46.5 19.2L46.7 19.1M45.0 14.8L47.1 16.7M16.3 50.4L14.7 53.7M11.0 51.8L13.8 53.8" stroke="#d8d8d8" stroke-width="0.8" fill="none"/>
<path id="tm" d="M53.3 50.6L52.1 54.2M53.2 46.2L49.5 43.9M53.2 46.2L52.3 48.8M52.3 48.8L48.6 49.3M48.6 49.3L47.2 47.5M47.2 47.5L49.5 43.9M53.2 18.9L50.6 16.7M50.6 16.7L54.4 13.4M55.2 42.1L50.5 39.9M49.5 43.9L48.8 41.5M50.5 39.9L48.8 41.5M52.3 48.8L53.3 50.6M48.6 49.3L47.7 52.4M47.7 52.4L48.4 53.4M51.9 2.3L48.4 1.4M51.9 2.3L51.0 7.9M48.4 1.4L46.4 6.2M51.0 7.9L46.4 6.2M47.7 0.4L48.6 -2.7M47.7 0.4L43.0 0.4M41.7 -1.6L43.0 0.4M46.0 6.3L46.4 6.2M46.0 6.3L42.7 2.3M42.7 2.3L43.0 0.4M48.4 1.4L47.7 0.4M56.3 3.4L52.1 2.2M52.1 2.2L53.3 -1.4M51.2 8.1L55.8 6.9M51.2 8.1L51.0 7.9M51.9 2.3L52.1 2.2M44.9 40.5L44.5 37.3M44.9 40.5L45.3 41.0M45.3 41.0L48.8 41.5M50.5 39.9L50.8 38.9M50.8 38.9L48.6 34.8M44.5 37.3L48.6 34.8M39.3 40.7L38.8 39.5M39.3 40.7L44.9 40.5M38.8 39.5L40.0 36.7M40.0 36.7L43.3 36.3M44.5 37.3L43.3 36.3M9.4 31.7L7.1 34.5M9.4 31.7L12.2 32.0M7.1 34.5L7.6 36.2M13.2 34.6L12.2 32.0M13.2 34.6L9.1 37.0M9.1 37.0L7.6 36.2M6.1 47.3L2.3 45.6M6.1 47.3L6.4 50.7M1.3 50.6L6.1 51.0M1.3 50.6L0.3 48.8M0.3 48.8L1.2 46.2M6.4 50.7L6.1 51.0M2.3 45.6L1.2 46.2M47.2 47.5L45.7 47.3M45.3 41.0L44.0 44.1M45.7 47.3L44.0 44.1M39.3 40.7L38.3 43.5M38.3 43.5L40.9 45.1M44.0 44.1L40.9 45.1M24.9 33.7L27.0 31.5M24.9 33.7L22.8 33.3M27.0 31.5L24.8 28.2M24.8 28.2L23.8 27.9M23.8 27.9L22.0 30.4M22.0 30.4L22.8 33.3M36.2 46.7L37.1 44.1M36.2 46.7L31.5 48.1M37.1 44.1L33.3 42.1M33.3 42.1L32.0 43.2M32.0 43.2L31.5 48.1M34.4 37.9L33.2 39.5M34.4 37.9L34.3 35.2M33.2 39.5L29.2 38.7M34.3 35.2L33.6 34.6M33.6 34.6L29.9 34.7M29.9 34.7L28.5 36.7M28.5 36.7L29.2 38.7M38.8 39.5L34.4 37.9M38.3 43.5L37.1 44.1M33.3 42.1L33.2 39.5M40.0 36.7L38.1 33.6M38.1 33.6L34.3 35.2M32.0 43.2L27.8 42.7M27.8 42.7L27.2 41.9M27.2 41.9L29.2 38.7M24.9 33.7L25.8 36.3M27.0 31.5L28.4 31.7M28.4 31.7L29.9 34.7M25.8 36.3L28.5 36.7M27.2 41.9L24.2 41.1M25.8 36.3L23.7 38.6M24.2 41.1L23.7 38.6M51.2 8.1L51.2 9.7M51.2 9.7L54.4 12.8M37.5 56.1L37.6 51.3M37.6 51.3L38.3 50.5M38.3 50.5L41.4 50.2M41.7 50.4L41.4 50.2M41.7 50.4L43.0 52.4M43.0 52.4L42.7 54.3M36.2 46.7L38.3 50.5M40.9 45.1L41.4 50.2M45.7 47.3L41.7 50.4M47.7 52.4L43.0 52.4M29.7 25.7L28.6 23.0M29.7 25.7L24.8 28.2M28.6 23.0L24.2 23.4M23.8 27.9L23.0 26.5M23.0 26.5L24.2 23.4M31.7 15.9L32.6 19.6M31.7 15.9L28.8 15.1M29.1 21.0L27.1 18.6M29.1 21.0L32.6 19.6M27.1 18.6L28.8 15.1M30.1 10.6L31.1 6.3M30.1 10.6L33.6 12.1M33.6 12.1L36.4 9.3M31.1 6.3L36.2 9.0M36.4 9.3L36.2 9.0M0.1 54.2L1.3 50.6M6.1 51.0L5.8 54.4M0.3 48.8L-3.4 49.3M1.2 46.2L-2.5 43.9M31.7 15.9L33.9 14.2M32.6 19.6L33.3 19.9M33.9 14.2L37.1 15.9M37.1 15.9L37.5 17.6M33.3 19.9L37.5 17.6M38.1 33.6L38.7 32.2M43.3 36.3L43.2 32.2M38.7 32.2L43.2 32.2M1.9 36.9L-1.2 38.9M1.9 36.9L4.6 38.4M4.6 38.4L4.4 41.3M-1.5 39.9L3.2 42.1M4.4 41.3L3.2 42.1M-1.7 32.5L1.9 34.3M1.9 34.3L1.9 36.9M4.5 32.8L7.1 34.5M4.5 32.8L1.9 34.3M7.6 36.2L4.6 38.4M2.3 45.6L3.2 42.1M6.1 47.3L8.4 45.2M8.4 45.2L8.6 43.0M8.6 43.0L4.4 41.3M37.6 51.3L32.6 51.8M32.9 55.7L32.6 51.8M13.2 34.6L13.5 34.7M13.7 29.5L12.2 32.0M13.7 29.5L17.7 31.2M17.7 31.2L17.6 33.3M13.5 34.7L17.6 33.3M18.4 30.5L22.0 30.4M18.4 30.5L17.7 31.2M22.8 33.3L19.7 36.0M17.6 33.3L19.7 36.0M23.7 38.6L19.8 36.3M19.7 36.0L19.8 36.3M50.8 38.9L53.9 36.9M18.7 22.0L19.3 25.5M18.7 22.0L13.9 22.7M14.4 26.4L13.9 22.7M14.4 26.4L18.3 26.5M18.3 26.5L19.3 25.5M13.7 29.5L13.2 27.8M18.4 30.5L18.3 26.5M13.2 27.8L14.4 26.4M23.0 26.5L19.3 25.5M24.2 23.4L22.4 20.2M18.7 22.0L19.7 20.2M22.4 20.2L19.7 20.2M28.6 23.0L29.1 21.0M27.1 18.6L24.4 18.4M22.4 20.2L24.4 18.4M32.9 3.7L37.4 4.2M32.9 3.7L32.6 -0.2M32.6 -0.2L37.6 -0.7M37.6 -0.7L37.5 4.1M37.5 4.1L37.4 4.2M31.1 6.3L31.0 6.0M31.0 6.0L32.9 3.7M36.2 9.0L37.4 4.2M42.7 2.3L40.0 4.5M40.0 4.5L37.5 4.1M6.4 50.7L10.6 50.9M8.4 45.2L11.4 47.5M11.4 47.5L10.6 50.9M15.8 54.7L14.0 51.8M10.6 54.8L11.5 51.8M14.0 51.8L11.5 51.8M10.6 50.9L11.5 51.8M35.1 24.3L36.1 24.7M35.1 24.3L29.8 25.8M36.1 24.7L34.8 29.3M29.8 25.8L31.0 29.2M31.0 29.2L32.9 30.1M32.9 30.1L34.8 29.3M37.0 24.6L36.1 24.7M37.0 24.6L39.2 18.8M33.3 19.9L35.1 24.3M37.5 17.6L39.2 18.8M29.7 25.7L29.8 25.8M37.0 24.6L40.4 26.3M38.3 31.1L40.4 26.3M38.3 31.1L34.8 29.3M28.4 31.7L31.0 29.2M33.6 34.6L32.9 30.1M38.7 32.2L38.3 31.1M48.6 34.8L48.8 34.0M43.2 32.2L44.1 31.3M44.1 31.3L48.8 34.0M56.0 28.6L50.6 31.0M53.9 34.3L50.3 32.5M50.6 31.0L50.3 32.5M50.3 32.5L48.8 34.0M15.9 49.2L14.0 51.8M15.9 49.2L20.1 51.1M18.3 55.4L20.1 51.1M27.3 46.9L31.4 48.2M27.3 46.9L27.3 46.9M27.3 46.9L25.1 52.0M31.4 48.2L31.7 51.0M31.7 51.0L27.2 53.0M27.2 53.0L25.2 52.3M25.2 52.3L25.1 52.0M27.8 42.7L27.3 46.9M31.5 48.1L31.4 48.2M24.2 41.1L23.4 41.8M23.4 41.8L22.8 45.9M22.8 45.9L27.3 46.9M22.8 45.9L21.5 46.8M21.5 46.8L21.4 50.5M21.4 50.5L25.1 52.0M32.6 51.8L31.7 51.0M23.4 41.8L18.0 41.6M21.5 46.8L18.9 45.5M18.9 45.5L18.0 41.6M15.9 49.2L15.6 47.7M20.1 51.1L21.4 50.5M18.9 45.5L15.6 47.7M11.4 47.5L14.1 46.5M15.6 47.7L14.1 46.5M-1.4 31.0L4.0 28.6M4.5 32.8L4.1 28.7M4.0 28.6L4.1 28.7M9.4 31.7L8.5 29.3M4.1 28.7L8.5 29.3M13.2 27.8L10.3 27.1M8.5 29.3L10.3 27.1M13.9 22.7L12.2 21.2M19.7 20.2L18.5 18.1M18.5 18.1L14.8 17.9M14.8 17.9L12.2 21.2M10.3 27.1L9.0 24.6M9.0 24.6L11.5 21.2M12.2 21.2L11.5 21.2M9.5 19.3L11.5 21.2M9.5 19.3L9.2 16.1M14.8 17.9L13.3 14.8M13.3 14.8L9.2 16.1M4.7 16.0L4.0 18.1M4.7 16.0L8.3 15.2M5.7 20.5L4.0 18.1M5.7 20.5L9.5 19.3M8.3 15.2L9.2 16.1M18.5 18.1L19.2 15.0M13.3 14.8L13.9 13.5M13.9 13.5L15.4 12.8M19.2 15.0L15.4 12.8M23.3 14.0L21.6 13.2M23.3 14.0L27.9 12.8M24.5 7.6L21.4 11.4M24.5 7.6L28.1 12.0M21.4 11.4L21.6 13.2M28.1 12.0L27.9 12.8M24.4 18.4L23.3 14.0M19.2 15.0L21.6 13.2M28.8 15.1L27.9 12.8M19.1 4.8L17.3 8.5M19.1 4.8L23.0 5.4M23.0 5.4L24.5 7.4M24.5 7.4L24.5 7.6M17.3 8.5L21.4 11.4M30.1 10.6L28.1 12.0M29.2 5.4L24.5 7.4M29.2 5.4L31.0 6.0M15.4 12.8L17.0 8.7M17.3 8.5L17.0 8.7M33.6 12.1L33.9 14.2M43.8 15.3L46.8 12.1M43.8 15.3L48.3 18.0M50.0 16.7L48.6 12.2M50.0 16.7L48.3 18.0M48.6 12.2L46.8 12.1M42.8 20.9L41.1 18.9M42.8 20.9L47.7 20.3M47.7 20.3L48.3 18.0M41.1 18.9L43.7 15.3M43.7 15.3L43.8 15.3M51.2 9.7L48.6 12.2M50.6 16.7L50.0 16.7M46.0 6.3L44.2 8.4M44.2 8.4L46.8 12.1M41.4 7.8L37.4 9.8M41.4 7.8L43.4 8.6M43.4 8.6L41.7 12.9M41.7 12.9L38.9 12.8M38.9 12.8L37.4 9.8M40.0 4.5L41.4 7.8M36.4 9.3L37.4 9.8M44.2 8.4L43.4 8.6M43.7 15.3L41.7 12.9M37.1 15.9L38.9 12.8M41.1 18.9L39.2 18.8M4.7 16.0L2.4 13.4M1.2 18.9L4.0 18.1M1.2 18.9L-1.4 16.7M2.4 13.4L-1.4 16.7M29.2 5.4L27.2 1.0M23.0 5.4L25.2 0.3M27.2 1.0L25.2 0.3M32.6 -0.2L31.7 -1.0M27.2 1.0L31.7 -1.0M21.4 -1.5L25.1 0.0M25.1 0.0L27.3 -5.1M25.1 0.0L25.2 0.3M56.0 28.4L52.2 25.0M50.6 31.0L48.9 28.0M48.9 28.0L52.2 25.0M52.7 22.7L52.2 23.3M47.7 20.3L48.3 21.7M48.3 21.7L52.2 23.3M52.2 23.3L52.2 25.0M44.2 30.9L47.9 27.7M44.2 30.9L41.2 26.2M42.6 25.0L41.2 26.2M42.6 25.0L46.3 25.5M46.3 25.5L47.9 27.7M44.1 31.3L44.2 30.9M48.9 28.0L47.9 27.7M40.4 26.3L41.2 26.2M42.8 20.9L42.6 25.0M48.3 21.7L46.3 25.5M25.2 52.3L23.0 57.4M17.4 39.3L15.0 38.5M17.4 39.3L18.0 41.5M18.0 41.5L14.0 43.8M15.0 38.5L10.6 40.7M14.0 43.8L10.5 41.3M10.6 40.7L10.5 41.3M13.5 34.7L15.0 38.5M19.8 36.3L17.4 39.3M18.0 41.6L18.0 41.5M14.1 46.5L14.0 43.8M9.1 37.0L10.6 40.7M8.6 43.0L10.5 41.3M2.4 13.4L2.4 12.8M-0.8 9.7L2.4 12.8M6.3 24.5L4.0 28.4M6.3 24.5L5.1 22.4M5.1 22.4L0.7 22.7M4.0 28.4L0.2 25.0M0.2 25.0L0.2 23.3M0.2 23.3L0.7 22.7M4.0 28.6L4.0 28.4M9.0 24.6L6.3 24.5M5.7 20.5L5.1 22.4M1.2 18.9L0.7 22.7M-3.1 28.0L0.2 25.0M-3.7 21.7L0.2 23.3M15.9 -2.8L14.0 -0.2M14.0 -0.2L15.8 2.7M20.1 -0.9L18.3 3.4M18.3 3.4L15.8 2.7M10.6 -1.1L11.5 -0.2M11.5 -0.2L14.0 -0.2M19.1 4.8L18.3 3.4M11.5 -0.2L10.6 2.8M15.8 2.7L12.8 5.0M12.8 5.0L10.6 2.8M17.0 8.7L12.6 7.4M12.8 5.0L12.6 7.4M6.1 -1.0L5.8 2.4M5.8 2.4L8.1 3.7M8.1 3.7L10.6 2.8M0.1 2.2L-0.1 2.3M0.1 2.2L1.3 -1.4M-0.1 2.3L-3.6 1.4M-0.8 8.1L3.8 6.9M4.3 3.4L0.1 2.2M4.3 3.4L3.8 6.9M-1.0 7.9L-0.1 2.3M5.8 2.4L4.3 3.4M11.6 11.0L12.5 7.5M11.6 11.0L8.2 11.9M12.5 7.5L8.5 7.1M8.5 7.1L6.4 9.1M8.2 11.9L6.4 10.0M6.4 10.0L6.4 9.1M13.9 13.5L11.6 11.0M12.6 7.4L12.5 7.5M8.3 15.2L8.2 11.9M8.1 3.7L8.5 7.1M3.8 6.9L6.4 9.1M2.4 12.8L6.4 10.0" stroke="#d8d8d8" stroke-width="0.8" fill="none"/>
<path id="tc" d="M24.1 34.5L22.0 27.8M24.1 34.5L22.1 36.0M20.4 26.6L19.9 26.7M20.4 26.6L22.0 27.8M19.9 26.7L15.9 29.7M15.9 29.7L17.0 35.9M22.1 36.0L17.0 35.9M62.2 5.4L60.4 11.4M60.4 11.4L66.2 13.4M-6.2 30.4L1.0 28.4M-2.6 36.8L3.8 32.7M1.0 28.4L4.3 31.8M4.3 31.8L3.8 32.7M21.3 11.1L25.9 15.8M21.3 11.1L27.3 8.3M27.3 8.3L30.6 11.4M30.6 11.4L28.2 15.3M25.9 15.8L28.2 15.3M31.0 18.7L36.0 17.7M31.0 18.7L28.2 15.3M37.1 16.3L36.0 17.7M37.1 16.3L31.7 11.3M31.7 11.3L30.6 11.4M29.3 23.0L31.0 18.7M29.3 23.0L23.6 20.1M23.6 20.1L25.9 15.8M60.2 60.3L68.1 59.1M60.2 60.3L59.4 56.8M59.4 56.8L65.4 53.1M60.2 60.3L59.8 61.6M60.4 11.4L59.5 11.8M59.6 18.1L59.5 11.8M59.6 18.1L65.2 19.4M37.1 16.3L38.7 15.8M31.7 11.3L34.3 8.3M34.3 8.3L39.5 8.8M39.5 8.8L38.7 15.8M43.9 24.4L48.7 20.1M43.9 24.4L43.0 23.9M43.0 23.9L40.4 16.4M48.7 20.1L44.7 15.2M44.7 15.2L40.4 16.4M36.2 24.5L36.0 17.7M36.2 24.5L43.0 23.9M38.7 15.8L40.4 16.4M43.8 8.3L45.9 13.1M43.8 8.3L39.8 8.4M39.5 8.8L39.8 8.4M45.9 13.1L44.7 15.2M36.0 29.6L33.9 31.2M36.0 29.6L35.6 25.1M33.9 31.2L29.8 30.2M35.6 25.1L29.7 24.1M29.8 30.2L28.4 26.2M28.4 26.2L29.7 24.1M25.9 34.8L29.8 30.2M25.9 34.8L28.3 36.8M33.5 35.9L28.3 36.8M33.5 35.9L33.9 31.2M29.3 23.0L29.7 24.1M36.2 24.5L35.6 25.1M24.1 34.5L25.9 34.8M22.0 27.8L28.4 26.2M20.4 26.6L22.9 20.3M22.9 20.3L23.6 20.1M56.9 54.3L61.1 47.7M56.9 54.3L59.4 56.8M56.9 54.3L56.3 54.1M55.1 45.5L53.3 47.9M55.1 45.5L60.0 46.0M56.3 54.1L53.3 47.9M60.0 46.0L61.1 47.7M61.3 41.3L60.0 46.0M-4.9 45.5L-0.0 46.0M-2.5 37.9L1.3 41.3M1.3 41.3L-0.0 46.0M3.8 32.7L5.5 40.2M1.3 41.3L5.5 40.2M11.5 36.5L9.2 40.7M11.5 36.5L16.6 36.2M9.2 40.7L15.5 44.3M16.6 36.2L16.3 44.0M15.5 44.3L16.3 44.0M8.3 30.8L11.5 36.5M8.3 30.8L4.3 31.8M7.7 41.2L5.5 40.2M7.7 41.2L9.2 40.7M10.0 28.6L15.9 29.7M10.0 28.6L8.3 30.8M17.0 35.9L16.6 36.2M7.1 45.9L7.7 41.2M7.1 45.9L10.6 48.7M10.6 48.7L13.2 48.2M13.2 48.2L15.5 44.3M22.1 36.0L22.3 42.8M22.3 42.8L18.6 44.5M18.6 44.5L16.3 44.0M50.2 12.3L51.0 7.2M50.2 12.3L52.7 14.7M52.7 14.7L58.1 11.6M58.1 11.6L53.3 5.8M53.3 5.8L51.0 7.2M45.9 6.0L51.0 7.2M45.9 6.0L43.8 8.3M45.9 13.1L50.2 12.3M53.1 25.2L57.8 22.7M53.1 25.2L50.1 20.0M50.1 20.0L52.7 17.4M52.7 17.4L57.8 19.5M57.8 19.5L57.8 22.7M61.0 28.4L53.8 30.4M61.0 25.4L57.8 22.7M53.8 30.4L52.6 27.8M52.6 27.8L53.1 25.2M43.9 24.4L44.7 27.1M48.7 20.1L50.1 20.0M44.7 27.1L52.6 27.8M52.7 14.7L52.7 17.4M59.6 18.1L57.8 19.5M59.5 11.8L58.1 11.6M42.3 47.6L41.7 41.7M42.3 47.6L40.6 49.3M40.6 49.3L39.0 49.5M39.0 49.5L34.3 43.7M41.7 41.7L35.1 42.7M34.3 43.7L35.1 42.7M35.9 52.7L37.0 56.2M35.9 52.7L39.0 49.5M37.0 56.2L40.4 57.9M40.4 57.9L44.3 55.1M44.3 55.1L40.6 49.3M35.0 37.2L33.5 35.9M35.0 37.2L40.2 35.6M36.0 29.6L39.8 31.3M40.2 35.6L39.8 31.3M44.7 27.1L44.2 28.5M39.8 31.3L44.2 28.5M-0.0 46.0L1.1 47.7M-3.1 54.3L1.1 47.7M7.1 45.9L3.3 48.3M3.3 48.3L1.1 47.7M24.9 50.3L26.7 44.4M24.9 50.3L29.4 53.2M31.9 51.7L29.4 53.2M31.9 51.7L31.7 44.5M31.7 44.5L28.9 43.6M28.9 43.6L26.7 44.4M22.3 42.8L26.7 44.4M18.6 44.5L21.2 51.6M21.2 51.6L24.9 50.3M35.9 52.7L31.9 51.7M37.0 56.2L31.6 60.8M31.6 60.8L28.9 56.6M28.9 56.6L29.4 53.2M34.3 43.7L31.7 44.5M35.0 37.2L35.1 42.7M28.3 36.8L28.9 43.6M14.7 59.3L21.6 58.6M14.7 59.3L12.6 57.1M12.6 57.1L15.8 52.3M15.8 52.3L20.8 52.1M20.8 52.1L21.8 58.1M21.6 58.6L21.8 58.1M21.2 51.6L20.8 52.1M13.2 48.2L15.8 52.3M28.9 56.6L21.8 58.1M40.4 57.9L40.6 61.1M48.1 53.0L53.3 55.2M48.1 53.0L45.3 55.1M45.3 55.1L47.8 60.0M53.3 55.2L51.1 60.3M51.1 60.3L47.8 60.0M56.3 54.1L53.3 55.2M48.6 48.4L53.3 47.9M48.6 48.4L48.1 53.0M48.6 48.4L47.9 47.6M47.9 47.6L42.3 47.6M44.3 55.1L45.3 55.1M45.3 63.1L47.8 60.0M54.0 64.1L51.1 60.3M14.5 64.5L14.7 59.3M21.6 58.6L22.6 62.4M34.3 8.3L32.9 2.7M39.8 8.4L38.9 3.0M32.9 2.7L38.9 3.0M45.3 3.1L45.9 6.0M45.3 3.1L40.6 1.1M40.6 1.1L38.9 3.0M62.2 5.4L59.8 1.6M53.3 5.8L54.0 4.1M54.0 4.1L59.8 1.6M68.1 -0.9L60.2 0.3M59.4 -3.2L60.2 0.3M59.8 1.6L60.2 0.3M55.1 45.5L53.6 41.6M61.3 41.3L57.5 37.9M53.6 41.6L57.5 37.9M63.8 32.7L57.4 36.8M53.8 30.4L53.5 32.4M53.5 32.4L57.4 36.8M57.5 37.9L57.4 36.8M0.2 60.3L-0.6 56.8M0.2 60.3L8.1 59.1M-0.6 56.8L5.4 53.1M5.4 53.1L8.1 54.0M8.1 54.0L9.9 56.8M8.1 59.1L9.9 56.8M-0.2 61.6L0.2 60.3M8.5 66.1L8.1 59.1M3.3 48.3L5.4 53.1M10.6 48.7L8.1 54.0M12.6 57.1L9.9 56.8M10.0 28.6L9.8 25.2M19.9 26.7L14.2 21.2M9.8 25.2L14.2 21.2M22.9 20.3L19.3 18.0M19.3 18.0L14.4 19.9M14.2 21.2L14.4 19.9M19.3 18.0L19.7 11.4M12.5 17.1L14.4 19.9M12.5 17.1L14.5 12.5M14.5 12.5L19.7 11.4M6.2 13.4L7.1 16.2M6.2 13.4L9.8 8.1M12.5 17.1L7.1 16.2M14.5 12.5L9.8 8.1M21.3 11.1L20.2 10.9M20.2 10.9L19.7 11.4M8.5 6.1L8.1 -0.9M8.5 6.1L2.2 5.4M8.1 -0.9L0.2 0.3M2.2 5.4L-0.2 1.6M0.2 0.3L-0.2 1.6M6.2 13.4L0.4 11.4M0.4 11.4L2.2 5.4M9.8 8.1L9.8 7.2M9.8 7.2L8.5 6.1M-1.9 11.6L-0.5 11.8M-6.0 4.1L-0.2 1.6M0.4 11.4L-0.5 11.8M-0.6 -3.2L0.2 0.3M1.0 25.4L-2.2 22.7M1.0 25.4L5.5 21.8M5.5 21.8L5.2 19.4M5.2 19.4L-0.4 18.1M-2.2 19.5L-0.4 18.1M1.0 28.4L1.0 25.4M9.8 25.2L5.5 21.8M7.1 16.2L5.2 19.4M-0.5 11.8L-0.4 18.1M27.3 8.3L27.5 4.4M32.9 2.7L31.6 1.6M27.5 4.4L31.6 1.6M40.6 1.1L40.4 -2.1M37.0 -3.8L31.6 0.8M31.6 1.6L31.6 0.8M28.9 -3.4L31.6 0.8M46.8 33.5L42.7 37.8M46.8 33.5L50.4 34.2M50.4 34.2L49.7 40.7M43.2 39.9L48.1 41.5M43.2 39.9L42.7 37.8M48.1 41.5L49.7 40.7M40.2 35.6L42.7 37.8M44.2 28.5L46.8 33.5M53.5 32.4L50.4 34.2M53.6 41.6L49.7 40.7M47.9 47.6L48.1 41.5M41.7 41.7L43.2 39.9M14.7 -0.7L14.5 4.5M14.5 4.5L19.1 6.7M19.1 6.7L22.6 2.4M22.6 2.4L21.6 -1.4M9.8 7.2L14.5 4.5M20.2 10.9L19.1 6.7M27.5 4.4L22.6 2.4M53.3 -4.8L51.1 0.3M47.8 0.0L51.1 0.3M47.8 0.0L45.3 -4.9M54.0 4.1L51.1 0.3M45.3 3.1L47.8 0.0" stroke="#d8d8d8" stroke-width="0.8" fill="none"/>
<filter id="spk" x="0" y="0" width="1" height="1" color-interpolation-filters="sRGB"><feTurbulence type="fractalNoise" baseFrequency="0.45" numOctaves="2" seed="5" result="n"/><feColorMatrix in="n" type="matrix" values="0 0 0 0 1 0 0 0 0 1 0 0 0 0 1 2.6 0 0 0 -0.55" result="m"/><feComposite in="SourceGraphic" in2="m" operator="in"/></filter>
<clipPath id="c0"><rect x="54.0" y="401.9" width="102.2" height="102.0"/></clipPath>
<clipPath id="c1"><rect x="158.5" y="401.9" width="102.5" height="102.0"/></clipPath>
<clipPath id="c2"><rect x="263.5" y="401.9" width="101.5" height="102.0"/></clipPath>
<clipPath id="c3"><rect x="54.0" y="505.8" width="102.2" height="102.4"/></clipPath>
<clipPath id="c4"><rect x="158.5" y="505.8" width="102.5" height="102.4"/></clipPath>
<clipPath id="c5"><rect x="263.5" y="505.8" width="101.5" height="102.4"/></clipPath>
</defs>
<g clip-path="url(#c0)"><rect x="54.0" y="401.9" width="102.2" height="102.0" fill="#2a2a2a"/><rect x="54.0" y="401.9" width="102.2" height="102.0" fill="url(#p0)" filter="url(#spk)"/>
<path d="M157.0 417.0C155.5 419.6 150.8 428.7 147.9 432.4C145.0 436.1 142.5 436.9 139.4 439.1C136.3 441.4 132.7 443.2 129.3 445.9C125.9 448.6 122.0 453.0 119.2 455.4C116.4 457.8 114.5 458.4 112.4 460.4C110.3 462.4 109.9 464.1 106.5 467.2C103.1 470.3 96.1 475.6 92.0 479.0C87.9 482.4 85.5 484.4 81.8 487.4C78.1 490.4 73.3 494.1 70.0 497.0C66.7 499.9 63.3 503.7 62.0 505.0" stroke="#030303" stroke-width="3.4" fill="none" stroke-linecap="round"/>
<path d="M90.0 506.0C92.3 503.8 99.5 496.1 104.0 492.5C108.5 488.9 112.5 486.1 116.7 484.1C120.9 482.1 125.8 481.8 129.3 480.7C132.8 479.6 135.0 479.3 137.8 477.3C140.6 475.3 143.0 470.8 146.2 468.9C149.4 467.0 155.2 466.5 157.0 466.0" stroke="#030303" stroke-width="3.4" fill="none" stroke-linecap="round"/>
<path d="M139.4 479.0C140.8 480.4 145.0 484.6 147.9 487.4C150.8 490.2 155.5 494.6 157.0 496.0" stroke="#030303" stroke-width="2.4" fill="none" stroke-linecap="round"/>
<path d="M53.0 481.0C56.0 479.4 66.1 474.4 70.9 471.4C75.7 468.4 78.3 465.7 81.8 463.0C85.3 460.3 89.0 457.7 92.0 455.4C95.0 453.1 98.7 450.1 100.0 449.0" stroke="#030303" stroke-width="1.8" fill="none" stroke-linecap="round"/>
<path d="M53.0 448.0C57.4 444.4 71.0 434.3 79.3 426.5C87.6 418.7 99.0 405.2 103.0 401.0" stroke="#030303" stroke-width="1.8" fill="none" stroke-linecap="round"/>
<path d="M53.0 410.0C54.9 409.1 60.9 406.0 64.1 404.5C67.3 403.0 70.7 401.6 72.0 401.0" stroke="#030303" stroke-width="2.4" fill="none" stroke-linecap="round"/>
<path d="M53.0 462.5C55.4 460.8 65.1 453.8 67.5 452.0" stroke="#030303" stroke-width="1.4" fill="none" stroke-linecap="round"/>
<path d="M56.0 482.0C56.8 483.0 59.9 484.2 60.8 488.0C61.7 491.8 61.5 502.2 61.6 505.0" stroke="#030303" stroke-width="1.4" fill="none" stroke-linecap="round"/>
<path d="M112.4 460.4C112.6 462.0 113.2 467.1 113.5 470.0C113.8 472.9 114.0 476.7 114.1 478.0" stroke="#030303" stroke-width="2.0" fill="none" stroke-linecap="round"/>
</g>
<g clip-path="url(#c1)"><rect x="158.5" y="401.9" width="102.5" height="102.0" fill="#151515"/><rect x="158.5" y="401.9" width="102.5" height="102.0" fill="url(#p1)" filter="url(#spk)"/>
<path d="M199.8 503.0C201.0 501.8 204.5 498.3 207.0 496.0C209.5 493.7 213.6 490.2 214.9 489.0" stroke="#030303" stroke-width="1.8" fill="none" stroke-linecap="round"/>
<path d="M158.0 457.2C159.1 457.5 163.6 458.6 164.7 458.9" stroke="#030303" stroke-width="1.5" fill="none" stroke-linecap="round"/>
</g>
<g clip-path="url(#c2)"><rect x="263.5" y="401.9" width="101.5" height="102.0" fill="#161616"/><rect x="263.5" y="401.9" width="101.5" height="102.0" fill="url(#p2)" filter="url(#spk)"/>
</g>
<g clip-path="url(#c3)"><rect x="54.0" y="505.8" width="102.2" height="102.4" fill="#222222"/><rect x="54.0" y="505.8" width="102.2" height="102.4" fill="url(#p3)" filter="url(#spk)"/>
</g>
<g clip-path="url(#c4)"><rect x="158.5" y="505.8" width="102.5" height="102.4" fill="#181818"/><rect x="158.5" y="505.8" width="102.5" height="102.4" fill="url(#p4)" filter="url(#spk)"/>
<path d="M158.0 539.5C160.8 538.0 169.3 533.2 174.9 530.3C180.5 527.4 187.0 524.7 191.8 521.9C196.6 519.1 199.9 516.2 203.6 513.4C207.3 510.6 212.3 506.4 214.0 505.0" stroke="#030303" stroke-width="2.6" fill="none" stroke-linecap="round"/>
<path d="M230.6 505.0C232.6 506.7 238.8 512.3 242.5 515.1C246.2 517.9 249.3 519.8 252.6 521.9C255.8 524.0 260.4 527.0 262.0 528.0" stroke="#030303" stroke-width="2.0" fill="none" stroke-linecap="round"/>
<path d="M166.0 578.0C168.3 575.4 175.7 567.0 180.0 562.4C184.3 557.8 188.2 554.5 191.8 550.6C195.5 546.7 198.8 542.5 201.9 538.8C205.0 535.1 207.9 532.5 210.4 528.6C212.9 524.7 215.4 519.0 217.1 515.1C218.8 511.2 219.9 506.7 220.5 505.0" stroke="#030303" stroke-width="1.5" fill="none" stroke-linecap="round"/>
<path d="M160.0 595.0C163.9 592.1 176.3 581.3 183.3 577.6C190.3 573.9 195.4 574.0 201.9 572.6C208.4 571.2 216.0 570.1 222.2 569.2C228.4 568.4 236.3 567.8 239.1 567.5" stroke="#030303" stroke-width="1.2" fill="none" stroke-linecap="round"/>
<path d="M207.0 610.0C208.7 607.7 214.0 600.5 217.1 596.2C220.2 591.9 222.5 587.5 225.6 584.4C228.7 581.3 232.0 579.3 235.7 577.6C239.3 575.9 243.1 575.3 247.5 574.3C251.9 573.3 259.6 572.1 262.0 571.7" stroke="#030303" stroke-width="3.6" fill="none" stroke-linecap="round"/>
<path d="M176.0 610.0C180.0 605.7 193.9 590.1 200.2 584.4C206.5 578.7 211.4 577.4 213.7 576.0" stroke="#030303" stroke-width="1.8" fill="none" stroke-linecap="round"/>
</g>
<g clip-path="url(#c5)"><rect x="263.5" y="505.8" width="101.5" height="102.4" fill="#161616"/><rect x="263.5" y="505.8" width="101.5" height="102.4" fill="url(#p5)" filter="url(#spk)"/>
<path d="M278.9 536.0C278.6 539.3 277.5 549.6 277.2 555.7C276.9 561.8 276.6 567.5 277.2 572.6C277.8 577.7 279.8 581.6 280.6 586.1C281.5 590.6 281.7 595.6 282.3 599.6C282.9 603.6 283.7 608.3 284.0 610.0" stroke="#030303" stroke-width="2.6" fill="none" stroke-linecap="round"/>
<path d="M297.5 505.0C297.5 509.2 297.4 521.8 297.5 530.3C297.6 538.8 297.7 547.5 298.3 555.7C298.9 563.9 300.5 575.4 300.9 579.3" stroke="#030303" stroke-width="2.0" fill="none" stroke-linecap="round"/>
<path d="M316.1 518.5C316.2 521.9 316.6 532.6 316.9 538.8C317.2 545.0 317.6 552.9 317.7 555.7" stroke="#030303" stroke-width="1.5" fill="none" stroke-linecap="round"/>
<path d="M316.1 518.5C319.2 517.9 328.4 516.0 334.6 515.1C340.8 514.2 350.1 513.7 353.2 513.4" stroke="#030303" stroke-width="3.0" fill="none" stroke-linecap="round"/>
<path d="M351.5 513.0C351.6 517.3 352.1 531.7 352.4 538.8C352.7 545.9 352.8 548.7 353.2 555.7C353.6 562.7 354.3 572.0 354.9 581.0C355.5 590.0 356.3 605.2 356.6 610.0" stroke="#030303" stroke-width="3.0" fill="none" stroke-linecap="round"/>
<path d="M287.3 589.5C290.1 588.4 297.1 584.4 304.2 582.7C311.2 581.0 322.0 579.9 329.6 579.3C337.2 578.7 345.6 579.0 349.8 579.3C354.0 579.6 354.1 580.7 355.0 581.0" stroke="#030303" stroke-width="4.0" fill="none" stroke-linecap="round"/>
<path d="M262.0 603.0C264.8 602.4 274.7 601.9 278.9 599.6C283.1 597.4 285.9 591.2 287.3 589.5" stroke="#030303" stroke-width="2.2" fill="none" stroke-linecap="round"/>
<path d="M262.0 579.3C264.5 579.9 274.7 582.1 277.2 582.7" stroke="#030303" stroke-width="1.8" fill="none" stroke-linecap="round"/>
<path d="M309.3 586.1C309.6 590.1 310.7 606.0 311.0 610.0" stroke="#030303" stroke-width="1.6" fill="none" stroke-linecap="round"/>
</g>
<ellipse cx="279.7" cy="530.5" rx="3.3" ry="4.3" fill="#080808" stroke="#b5b5b5" stroke-width="1.2"/>
<rect x="134.5" y="499.3" width="17.5" height="1.6" fill="#fff"/>
<rect x="241.5" y="498.4" width="15.199999999999989" height="1.6" fill="#fff"/>
<rect x="346" y="498.59999999999997" width="15" height="1.6" fill="#fff"/>
<rect x="134.5" y="602.7" width="17.5" height="1.6" fill="#fff"/>
<rect x="241.5" y="602.7" width="15.5" height="1.6" fill="#fff"/>
<rect x="346" y="602.7" width="15" height="1.6" fill="#fff"/>
<line x1="466.9" y1="415.0" x2="466.9" y2="557.9" stroke="#555" stroke-width="1.3"/>
<line x1="462.9" y1="430.5" x2="466.9" y2="430.5" stroke="#555" stroke-width="1.3"/>
<line x1="462.9" y1="494.0" x2="466.9" y2="494.0" stroke="#555" stroke-width="1.3"/>
<line x1="462.9" y1="557.3" x2="676.0" y2="557.3" stroke="#555" stroke-width="1.3"/>
<line x1="486.0" y1="557.3" x2="486.0" y2="560.5" stroke="#555" stroke-width="1.3"/>
<line x1="514.5" y1="557.3" x2="514.5" y2="560.5" stroke="#555" stroke-width="1.3"/>
<line x1="543.2" y1="557.3" x2="543.2" y2="560.5" stroke="#555" stroke-width="1.3"/>
<line x1="571.7" y1="557.3" x2="571.7" y2="560.5" stroke="#555" stroke-width="1.3"/>
<line x1="600.2" y1="557.3" x2="600.2" y2="560.5" stroke="#555" stroke-width="1.3"/>
<line x1="628.5" y1="557.3" x2="628.5" y2="560.5" stroke="#555" stroke-width="1.3"/>
<line x1="657.3" y1="557.3" x2="657.3" y2="560.5" stroke="#555" stroke-width="1.3"/>
<path d="M486.50 419.70C486.53 421.97 486.58 428.43 486.70 433.30C486.82 438.17 486.98 444.13 487.20 448.90C487.42 453.67 487.78 458.22 488.00 461.90C488.22 465.58 488.35 468.42 488.50 471.00C488.65 473.58 488.87 475.25 488.90 477.40C488.93 479.55 488.70 481.80 488.70 483.90C488.70 486.00 488.80 487.95 488.90 490.00C489.00 492.05 488.97 493.55 489.30 496.20C489.63 498.85 490.42 502.22 490.90 505.90C491.38 509.58 491.73 514.08 492.20 518.30C492.67 522.52 493.27 528.42 493.70 531.20C494.13 533.98 494.57 533.97 494.80 535.00C495.03 536.03 495.20 536.67 495.10 537.40C495.00 538.13 494.77 538.75 494.20 539.40C493.63 540.05 492.58 540.65 491.70 541.30C490.82 541.95 489.60 542.72 488.90 543.30C488.20 543.88 487.90 544.02 487.50 544.80C487.10 545.58 486.68 546.70 486.50 548.00C486.32 549.30 486.42 551.83 486.40 552.60L485.40 552.60C485.38 551.83 485.48 549.30 485.30 548.00C485.12 546.70 484.70 545.58 484.30 544.80C483.90 544.02 483.60 543.88 482.90 543.30C482.20 542.72 480.98 541.95 480.10 541.30C479.22 540.65 478.17 540.05 477.60 539.40C477.03 538.75 476.80 538.13 476.70 537.40C476.60 536.67 476.77 536.03 477.00 535.00C477.23 533.97 477.67 533.98 478.10 531.20C478.53 528.42 479.13 522.52 479.60 518.30C480.07 514.08 480.42 509.58 480.90 505.90C481.38 502.22 482.17 498.85 482.50 496.20C482.83 493.55 482.80 492.05 482.90 490.00C483.00 487.95 483.10 486.00 483.10 483.90C483.10 481.80 482.87 479.55 482.90 477.40C482.93 475.25 483.15 473.58 483.30 471.00C483.45 468.42 483.58 465.58 483.80 461.90C484.02 458.22 484.38 453.67 484.60 448.90C484.82 444.13 484.98 438.17 485.10 433.30C485.22 428.43 485.27 421.97 485.30 419.70Z" fill="#7c7c7c" stroke="#151515" stroke-width="0.9" stroke-linejoin="round"/>
<line x1="479.60" y1="518.3" x2="492.20" y2="518.3" stroke="#111" stroke-width="1.3" stroke-dasharray="3 1.6"/>
<line x1="478.10" y1="531.2" x2="493.70" y2="531.2" stroke="#333" stroke-width="0.7" stroke-dasharray="1.6 1"/>
<line x1="482.50" y1="496.2" x2="489.30" y2="496.2" stroke="#555" stroke-width="0.6" stroke-dasharray="1.6 1"/>
<path d="M514.90 425.80C514.92 429.83 514.95 442.90 515.00 450.00C515.05 457.10 515.15 463.40 515.20 468.40C515.25 473.40 515.17 475.90 515.30 480.00C515.43 484.10 515.72 489.53 516.00 493.00C516.28 496.47 516.70 497.78 517.00 500.80C517.30 503.82 517.40 508.08 517.80 511.10C518.20 514.12 518.93 516.52 519.40 518.90C519.87 521.28 519.97 522.85 520.60 525.40C521.23 527.95 522.70 532.45 523.20 534.20C523.70 535.95 523.53 535.27 523.60 535.90C523.67 536.53 523.87 537.32 523.60 538.00C523.33 538.68 522.77 539.33 522.00 540.00C521.23 540.67 519.83 541.40 519.00 542.00C518.17 542.60 517.52 543.13 517.00 543.60C516.48 544.07 516.23 544.23 515.90 544.80C515.57 545.37 515.17 546.35 515.00 547.00C514.83 547.65 514.92 548.42 514.90 548.70L513.90 548.70C513.88 548.42 513.97 547.65 513.80 547.00C513.63 546.35 513.23 545.37 512.90 544.80C512.57 544.23 512.32 544.07 511.80 543.60C511.28 543.13 510.63 542.60 509.80 542.00C508.97 541.40 507.57 540.67 506.80 540.00C506.03 539.33 505.47 538.68 505.20 538.00C504.93 537.32 505.13 536.53 505.20 535.90C505.27 535.27 505.10 535.95 505.60 534.20C506.10 532.45 507.57 527.95 508.20 525.40C508.83 522.85 508.93 521.28 509.40 518.90C509.87 516.52 510.60 514.12 511.00 511.10C511.40 508.08 511.50 503.82 511.80 500.80C512.10 497.78 512.52 496.47 512.80 493.00C513.08 489.53 513.37 484.10 513.50 480.00C513.63 475.90 513.55 473.40 513.60 468.40C513.65 463.40 513.75 457.10 513.80 450.00C513.85 442.90 513.88 429.83 513.90 425.80Z" fill="#d57ff6" stroke="#151515" stroke-width="0.9" stroke-linejoin="round"/>
<line x1="508.20" y1="525.4" x2="520.60" y2="525.4" stroke="#111" stroke-width="1.3" stroke-dasharray="3 1.6"/>
<line x1="505.60" y1="534.2" x2="523.20" y2="534.2" stroke="#333" stroke-width="0.7" stroke-dasharray="1.6 1"/>
<line x1="511.00" y1="511.1" x2="517.80" y2="511.1" stroke="#555" stroke-width="0.6" stroke-dasharray="1.6 1"/>
<line x1="543.2" y1="430.1" x2="543.2" y2="498" stroke="#9a9a9a" stroke-width="1.1"/>
<path d="M543.65 490.00C543.68 491.17 543.71 494.83 543.80 497.00C543.89 499.17 544.02 500.87 544.20 503.00C544.38 505.13 544.58 507.15 544.90 509.80C545.22 512.45 545.68 516.30 546.10 518.90C546.52 521.50 546.85 523.13 547.40 525.40C547.95 527.67 548.75 530.55 549.40 532.50C550.05 534.45 550.85 536.12 551.30 537.10C551.75 538.08 551.90 537.93 552.10 538.40C552.30 538.87 552.73 539.47 552.50 539.90C552.27 540.33 551.55 540.60 550.70 541.00C549.85 541.40 548.32 541.90 547.40 542.30C546.48 542.70 545.82 543.08 545.20 543.40C544.58 543.72 543.95 544.07 543.70 544.20L542.70 544.20C542.45 544.07 541.82 543.72 541.20 543.40C540.58 543.08 539.92 542.70 539.00 542.30C538.08 541.90 536.55 541.40 535.70 541.00C534.85 540.60 534.13 540.33 533.90 539.90C533.67 539.47 534.10 538.87 534.30 538.40C534.50 537.93 534.65 538.08 535.10 537.10C535.55 536.12 536.35 534.45 537.00 532.50C537.65 530.55 538.45 527.67 539.00 525.40C539.55 523.13 539.88 521.50 540.30 518.90C540.72 516.30 541.18 512.45 541.50 509.80C541.82 507.15 542.02 505.13 542.20 503.00C542.38 500.87 542.51 499.17 542.60 497.00C542.69 494.83 542.73 491.17 542.75 490.00Z" fill="#7c80fb" stroke="#151515" stroke-width="0.9" stroke-linejoin="round"/>
<line x1="537.00" y1="532.5" x2="549.40" y2="532.5" stroke="#111" stroke-width="1.3" stroke-dasharray="3 1.6"/>
<line x1="535.10" y1="537.1" x2="551.30" y2="537.1" stroke="#333" stroke-width="0.7" stroke-dasharray="1.6 1"/>
<line x1="539.00" y1="525.4" x2="547.40" y2="525.4" stroke="#555" stroke-width="0.6" stroke-dasharray="1.6 1"/>
<path d="M600.80 418.40C600.83 420.25 600.88 424.42 601.00 429.50C601.12 434.58 601.33 443.50 601.50 448.90C601.67 454.30 601.68 457.58 602.00 461.90C602.32 466.22 603.00 471.35 603.40 474.80C603.80 478.25 604.13 480.12 604.40 482.60C604.67 485.08 604.85 486.88 605.00 489.70C605.15 492.52 605.20 495.72 605.30 499.50C605.40 503.28 605.45 508.73 605.60 512.40C605.75 516.07 605.67 518.25 606.20 521.50C606.73 524.75 608.28 529.77 608.80 531.90C609.32 534.03 609.15 533.52 609.30 534.30C609.45 535.08 609.78 535.85 609.70 536.60C609.62 537.35 609.28 538.07 608.80 538.80C608.32 539.53 607.53 540.27 606.80 541.00C606.07 541.73 605.10 542.50 604.40 543.20C603.70 543.90 603.07 544.60 602.60 545.20C602.13 545.80 601.90 546.17 601.60 546.80C601.30 547.43 600.95 548.03 600.80 549.00C600.65 549.97 600.72 552.00 600.70 552.60L599.70 552.60C599.68 552.00 599.75 549.97 599.60 549.00C599.45 548.03 599.10 547.43 598.80 546.80C598.50 546.17 598.27 545.80 597.80 545.20C597.33 544.60 596.70 543.90 596.00 543.20C595.30 542.50 594.33 541.73 593.60 541.00C592.87 540.27 592.08 539.53 591.60 538.80C591.12 538.07 590.78 537.35 590.70 536.60C590.62 535.85 590.95 535.08 591.10 534.30C591.25 533.52 591.08 534.03 591.60 531.90C592.12 529.77 593.67 524.75 594.20 521.50C594.73 518.25 594.65 516.07 594.80 512.40C594.95 508.73 595.00 503.28 595.10 499.50C595.20 495.72 595.25 492.52 595.40 489.70C595.55 486.88 595.73 485.08 596.00 482.60C596.27 480.12 596.60 478.25 597.00 474.80C597.40 471.35 598.08 466.22 598.40 461.90C598.72 457.58 598.73 454.30 598.90 448.90C599.07 443.50 599.28 434.58 599.40 429.50C599.52 424.42 599.57 420.25 599.60 418.40Z" fill="#7c7c7c" stroke="#151515" stroke-width="0.9" stroke-linejoin="round"/>
<line x1="594.80" y1="512.4" x2="605.60" y2="512.4" stroke="#111" stroke-width="1.3" stroke-dasharray="3 1.6"/>
<line x1="591.60" y1="531.9" x2="608.80" y2="531.9" stroke="#333" stroke-width="0.7" stroke-dasharray="1.6 1"/>
<line x1="595.40" y1="489.7" x2="605.00" y2="489.7" stroke="#555" stroke-width="0.6" stroke-dasharray="1.6 1"/>
<path d="M629.00 421.90C629.05 425.32 629.17 436.82 629.30 442.40C629.43 447.98 629.60 451.07 629.80 455.40C630.00 459.73 630.23 464.08 630.50 468.40C630.77 472.72 631.18 478.07 631.40 481.30C631.62 484.53 631.65 485.42 631.80 487.80C631.95 490.18 632.13 492.58 632.30 495.60C632.47 498.62 632.57 502.27 632.80 505.90C633.03 509.53 633.27 514.15 633.70 517.40C634.13 520.65 634.80 522.98 635.40 525.40C636.00 527.82 636.92 530.60 637.30 531.90C637.68 533.20 637.60 532.62 637.70 533.20C637.80 533.78 638.03 534.67 637.90 535.40C637.77 536.13 637.40 536.90 636.90 537.60C636.40 538.30 635.60 538.93 634.90 539.60C634.20 540.27 633.37 540.90 632.70 541.60C632.03 542.30 631.38 543.05 630.90 543.80C630.42 544.55 630.10 545.40 629.80 546.10C629.50 546.80 629.23 546.92 629.10 548.00C628.97 549.08 629.02 551.83 629.00 552.60L628.00 552.60C627.98 551.83 628.03 549.08 627.90 548.00C627.77 546.92 627.50 546.80 627.20 546.10C626.90 545.40 626.58 544.55 626.10 543.80C625.62 543.05 624.97 542.30 624.30 541.60C623.63 540.90 622.80 540.27 622.10 539.60C621.40 538.93 620.60 538.30 620.10 537.60C619.60 536.90 619.23 536.13 619.10 535.40C618.97 534.67 619.20 533.78 619.30 533.20C619.40 532.62 619.32 533.20 619.70 531.90C620.08 530.60 621.00 527.82 621.60 525.40C622.20 522.98 622.87 520.65 623.30 517.40C623.73 514.15 623.97 509.53 624.20 505.90C624.43 502.27 624.53 498.62 624.70 495.60C624.87 492.58 625.05 490.18 625.20 487.80C625.35 485.42 625.38 484.53 625.60 481.30C625.82 478.07 626.23 472.72 626.50 468.40C626.77 464.08 627.00 459.73 627.20 455.40C627.40 451.07 627.57 447.98 627.70 442.40C627.83 436.82 627.95 425.32 628.00 421.90Z" fill="#d57ff6" stroke="#151515" stroke-width="0.9" stroke-linejoin="round"/>
<line x1="623.30" y1="517.4" x2="633.70" y2="517.4" stroke="#111" stroke-width="1.3" stroke-dasharray="3 1.6"/>
<line x1="619.70" y1="531.9" x2="637.30" y2="531.9" stroke="#333" stroke-width="0.7" stroke-dasharray="1.6 1"/>
<line x1="624.70" y1="495.6" x2="632.30" y2="495.6" stroke="#555" stroke-width="0.6" stroke-dasharray="1.6 1"/>
<path d="M657.80 421.90C657.88 427.48 658.12 447.65 658.30 455.40C658.48 463.15 658.68 464.08 658.90 468.40C659.12 472.72 659.42 478.07 659.60 481.30C659.78 484.53 659.88 485.85 660.00 487.80C660.12 489.75 660.18 490.83 660.30 493.00C660.42 495.17 660.48 498.00 660.70 500.80C660.92 503.60 661.32 506.78 661.60 509.80C661.88 512.82 662.05 516.30 662.40 518.90C662.75 521.50 663.07 523.02 663.70 525.40C664.33 527.78 665.72 531.57 666.20 533.20C666.68 534.83 666.50 534.52 666.60 535.20C666.70 535.88 666.97 536.63 666.80 537.30C666.63 537.97 666.22 538.58 665.60 539.20C664.98 539.82 663.92 540.40 663.10 541.00C662.28 541.60 661.42 542.17 660.70 542.80C659.98 543.43 659.27 544.10 658.80 544.80C658.33 545.50 658.07 545.92 657.90 547.00C657.73 548.08 657.82 550.58 657.80 551.30L656.80 551.30C656.78 550.58 656.87 548.08 656.70 547.00C656.53 545.92 656.27 545.50 655.80 544.80C655.33 544.10 654.62 543.43 653.90 542.80C653.18 542.17 652.32 541.60 651.50 541.00C650.68 540.40 649.62 539.82 649.00 539.20C648.38 538.58 647.97 537.97 647.80 537.30C647.63 536.63 647.90 535.88 648.00 535.20C648.10 534.52 647.92 534.83 648.40 533.20C648.88 531.57 650.27 527.78 650.90 525.40C651.53 523.02 651.85 521.50 652.20 518.90C652.55 516.30 652.72 512.82 653.00 509.80C653.28 506.78 653.68 503.60 653.90 500.80C654.12 498.00 654.18 495.17 654.30 493.00C654.42 490.83 654.48 489.75 654.60 487.80C654.72 485.85 654.82 484.53 655.00 481.30C655.18 478.07 655.48 472.72 655.70 468.40C655.92 464.08 656.12 463.15 656.30 455.40C656.48 447.65 656.72 427.48 656.80 421.90Z" fill="#7c80fb" stroke="#151515" stroke-width="0.9" stroke-linejoin="round"/>
<line x1="652.20" y1="518.9" x2="662.40" y2="518.9" stroke="#111" stroke-width="1.3" stroke-dasharray="3 1.6"/>
<line x1="648.40" y1="533.2" x2="666.20" y2="533.2" stroke="#333" stroke-width="0.7" stroke-dasharray="1.6 1"/>
<line x1="653.90" y1="500.8" x2="660.70" y2="500.8" stroke="#555" stroke-width="0.6" stroke-dasharray="1.6 1"/>
<path d="M540.9 375.3 V371.2 H657.4 V374.6" fill="none" stroke="#111" stroke-width="1.3"/>
<path d="M513.6 384.2 V379.7 H627.5 V383.8" fill="none" stroke="#111" stroke-width="1.3"/>
<path d="M481.9 393.4 V389.1 H597.3 V393.0" fill="none" stroke="#111" stroke-width="1.3"/>
<path d="M481.9 402.2 V398.3 H540.6 V402.2" fill="none" stroke="#111" stroke-width="1.3"/>
<path d="M481.9 414.4 V409.7 H540.6 V414.4 M512.6 409.7 V414.4" fill="none" stroke="#111" stroke-width="1.3"/>
<path d="M597.9 402.9 V398.6 H657.4 V402.9" fill="none" stroke="#111" stroke-width="1.3"/>
<path d="M597.9 415.2 V410.3 H657.4 V415.2 M629.0 410.3 V415.2" fill="none" stroke="#111" stroke-width="1.3"/>
<path d="M596.40 364.00 L596.99 365.79 L598.87 365.80 L597.35 366.91 L597.93 368.70 L596.40 367.60 L594.87 368.70 L595.45 366.91 L593.93 365.80 L595.81 365.79Z" fill="#111"/>
<path d="M602.30 364.00 L602.89 365.79 L604.77 365.80 L603.25 366.91 L603.83 368.70 L602.30 367.60 L600.77 368.70 L601.35 366.91 L599.83 365.80 L601.71 365.79Z" fill="#111"/>
<path d="M608.20 364.00 L608.79 365.79 L610.67 365.80 L609.15 366.91 L609.73 368.70 L608.20 367.60 L606.67 368.70 L607.25 366.91 L605.73 365.80 L607.61 365.79Z" fill="#111"/>
<path d="M614.10 364.00 L614.69 365.79 L616.57 365.80 L615.05 366.91 L615.63 368.70 L614.10 367.60 L612.57 368.70 L613.15 366.91 L611.63 365.80 L613.51 365.79Z" fill="#111"/>
<path d="M568.90 373.20 L569.49 374.99 L571.37 375.00 L569.85 376.11 L570.43 377.90 L568.90 376.80 L567.37 377.90 L567.95 376.11 L566.43 375.00 L568.31 374.99Z" fill="#111"/>
<path d="M574.67 373.20 L575.25 374.99 L577.14 375.00 L575.62 376.11 L576.19 377.90 L574.67 376.80 L573.14 377.90 L573.72 376.11 L572.19 375.00 L574.08 374.99Z" fill="#111"/>
<path d="M580.43 373.20 L581.02 374.99 L582.91 375.00 L581.38 376.11 L581.96 377.90 L580.43 376.80 L578.91 377.90 L579.48 376.11 L577.96 375.00 L579.85 374.99Z" fill="#111"/>
<path d="M586.20 373.20 L586.79 374.99 L588.67 375.00 L587.15 376.11 L587.73 377.90 L586.20 376.80 L584.67 377.90 L585.25 376.11 L583.73 375.00 L585.61 374.99Z" fill="#111"/>
<path d="M543.10 382.90 L543.69 384.69 L545.57 384.70 L544.05 385.81 L544.63 387.60 L543.10 386.50 L541.57 387.60 L542.15 385.81 L540.63 384.70 L542.51 384.69Z" fill="#111"/>
<path d="M549.40 382.90 L549.99 384.69 L551.87 384.70 L550.35 385.81 L550.93 387.60 L549.40 386.50 L547.87 387.60 L548.45 385.81 L546.93 384.70 L548.81 384.69Z" fill="#111"/>
<path d="M504.00 392.50 L504.59 394.29 L506.47 394.30 L504.95 395.41 L505.53 397.20 L504.00 396.10 L502.47 397.20 L503.05 395.41 L501.53 394.30 L503.41 394.29Z" fill="#111"/>
<path d="M510.07 392.50 L510.65 394.29 L512.54 394.30 L511.02 395.41 L511.59 397.20 L510.07 396.10 L508.54 397.20 L509.12 395.41 L507.59 394.30 L509.48 394.29Z" fill="#111"/>
<path d="M516.13 392.50 L516.72 394.29 L518.61 394.30 L517.08 395.41 L517.66 397.20 L516.13 396.10 L514.61 397.20 L515.18 395.41 L513.66 394.30 L515.55 394.29Z" fill="#111"/>
<path d="M522.20 392.50 L522.79 394.29 L524.67 394.30 L523.15 395.41 L523.73 397.20 L522.20 396.10 L520.67 397.20 L521.25 395.41 L519.73 394.30 L521.61 394.29Z" fill="#111"/>
<path d="M488.70 403.20 L489.29 404.99 L491.17 405.00 L489.65 406.11 L490.23 407.90 L488.70 406.80 L487.17 407.90 L487.75 406.11 L486.23 405.00 L488.11 404.99Z" fill="#111"/>
<path d="M494.53 403.20 L495.12 404.99 L497.01 405.00 L495.48 406.11 L496.06 407.90 L494.53 406.80 L493.01 407.90 L493.58 406.11 L492.06 405.00 L493.95 404.99Z" fill="#111"/>
<path d="M500.37 403.20 L500.95 404.99 L502.84 405.00 L501.32 406.11 L501.89 407.90 L500.37 406.80 L498.84 407.90 L499.42 406.11 L497.89 405.00 L499.78 404.99Z" fill="#111"/>
<path d="M506.20 403.20 L506.79 404.99 L508.67 405.00 L507.15 406.11 L507.73 407.90 L506.20 406.80 L504.67 407.90 L505.25 406.11 L503.73 405.00 L505.61 404.99Z" fill="#111"/>
<path d="M518.20 403.20 L518.79 404.99 L520.67 405.00 L519.15 406.11 L519.73 407.90 L518.20 406.80 L516.67 407.90 L517.25 406.11 L515.73 405.00 L517.61 404.99Z" fill="#111"/>
<path d="M524.00 403.20 L524.59 404.99 L526.47 405.00 L524.95 406.11 L525.53 407.90 L524.00 406.80 L522.47 407.90 L523.05 406.11 L521.53 405.00 L523.41 404.99Z" fill="#111"/>
<path d="M529.80 403.20 L530.39 404.99 L532.27 405.00 L530.75 406.11 L531.33 407.90 L529.80 406.80 L528.27 407.90 L528.85 406.11 L527.33 405.00 L529.21 404.99Z" fill="#111"/>
<path d="M535.60 403.20 L536.19 404.99 L538.07 405.00 L536.55 406.11 L537.13 407.90 L535.60 406.80 L534.07 407.90 L534.65 406.11 L533.13 405.00 L535.01 404.99Z" fill="#111"/>
<path d="M620.90 391.80 L621.49 393.59 L623.37 393.60 L621.85 394.71 L622.43 396.50 L620.90 395.40 L619.37 396.50 L619.95 394.71 L618.43 393.60 L620.31 393.59Z" fill="#111"/>
<path d="M626.80 391.80 L627.39 393.59 L629.27 393.60 L627.75 394.71 L628.33 396.50 L626.80 395.40 L625.27 396.50 L625.85 394.71 L624.33 393.60 L626.21 393.59Z" fill="#111"/>
<path d="M632.70 391.80 L633.29 393.59 L635.17 393.60 L633.65 394.71 L634.23 396.50 L632.70 395.40 L631.17 396.50 L631.75 394.71 L630.23 393.60 L632.11 393.59Z" fill="#111"/>
<path d="M638.60 391.80 L639.19 393.59 L641.07 393.60 L639.55 394.71 L640.13 396.50 L638.60 395.40 L637.07 396.50 L637.65 394.71 L636.13 393.60 L638.01 393.59Z" fill="#111"/>
<path d="M612.40 403.80 L612.99 405.59 L614.87 405.60 L613.35 406.71 L613.93 408.50 L612.40 407.40 L610.87 408.50 L611.45 406.71 L609.93 405.60 L611.81 405.59Z" fill="#111"/>
<path d="M618.70 403.80 L619.29 405.59 L621.17 405.60 L619.65 406.71 L620.23 408.50 L618.70 407.40 L617.17 408.50 L617.75 406.71 L616.23 405.60 L618.11 405.59Z" fill="#111"/>
<text x="11.08" y="19.26" font-size="22.6" font-weight="bold" >A</text>
<text x="191.31" y="20.30" font-size="21.6" font-weight="bold" >B</text>
<text x="359.73" y="20.48" font-size="22.6" font-weight="bold" >C</text>
<text x="527.80" y="19.51" font-size="20.8" font-weight="bold" >D</text>
<text x="11.29" y="394.10" font-size="22.6" font-weight="bold" >E</text>
<text x="411.40" y="394.22" font-size="22.0" font-weight="bold" >F</text>
<text x="31.48" y="56.43" font-size="17.8" text-anchor="middle" transform="rotate(-90 31.48 56.43)" textLength="26.4" lengthAdjust="spacingAndGlyphs" >WT</text>
<text x="14.60" y="176.93" font-size="17.8" text-anchor="middle" font-weight="bold" transform="rotate(-90 14.60 176.93)" textLength="63.28" lengthAdjust="spacingAndGlyphs" >Post-MI</text>
<text x="35.69" y="177.88" font-size="17.8" text-anchor="middle" transform="rotate(-90 35.69 177.88)" textLength="54.06" lengthAdjust="spacingAndGlyphs" >1 MYC</text>
<text x="35.06" y="293.23" font-size="17.8" text-anchor="middle" transform="rotate(-90 35.06 293.23)" textLength="55.41" lengthAdjust="spacingAndGlyphs" >2 MYC</text>
<text x="224.90" y="112.57" font-size="15.3" text-anchor="end" textLength="17.23" lengthAdjust="spacingAndGlyphs" >30</text>
<text x="225.31" y="170.86" font-size="15.3" text-anchor="end" textLength="17.78" lengthAdjust="spacingAndGlyphs" >20</text>
<text x="225.13" y="229.47" font-size="15.3" text-anchor="end" textLength="17.65" lengthAdjust="spacingAndGlyphs" >10</text>
<text x="225.05" y="291.20" font-size="15.3" text-anchor="end" textLength="8.51" lengthAdjust="spacingAndGlyphs" >0</text>
<text x="201.93" y="183.75" font-size="17.2" text-anchor="middle" transform="rotate(-90 201.93 183.75)" textLength="130.95" lengthAdjust="spacingAndGlyphs" >Scar size (% LV)</text>
<text x="398.43" y="152.95" font-size="16.3" text-anchor="end" textLength="17.73" lengthAdjust="spacingAndGlyphs" >80</text>
<text x="397.25" y="221.42" font-size="16.3" text-anchor="end" textLength="16.91" lengthAdjust="spacingAndGlyphs" >40</text>
<text x="398.14" y="292.60" font-size="16.3" text-anchor="end" textLength="9.24" lengthAdjust="spacingAndGlyphs" >0</text>
<text x="374.35" y="184.55" font-size="18.0" text-anchor="middle" transform="rotate(-90 374.35 184.55)" textLength="55.38" lengthAdjust="spacingAndGlyphs" >EF (%)</text>
<text x="568.75" y="154.08" font-size="15.6" text-anchor="end" textLength="17.56" lengthAdjust="spacingAndGlyphs" >20</text>
<text x="569.36" y="220.24" font-size="15.6" text-anchor="end" textLength="16.69" lengthAdjust="spacingAndGlyphs" >10</text>
<text x="566.24" y="287.41" font-size="15.6" text-anchor="end" textLength="9.36" lengthAdjust="spacingAndGlyphs" >0</text>
<text x="544.57" y="184.80" font-size="16.9" text-anchor="middle" transform="rotate(-90 544.57 184.80)" textLength="119.21" lengthAdjust="spacingAndGlyphs" >HW/BW (mg/g)</text>
<text x="601.75" y="99.12" font-size="21.4" textLength="19.99" lengthAdjust="spacingAndGlyphs" >ns</text>
<text x="645.50" y="98.62" font-size="21.4" textLength="20.38" lengthAdjust="spacingAndGlyphs" >ns</text>
<text x="92.40" y="399.27" font-size="14.1" textLength="21.09" lengthAdjust="spacingAndGlyphs" >WT</text>
<text x="180.19" y="399.27" font-size="14.1" textLength="42.84" lengthAdjust="spacingAndGlyphs" >1 MYC</text>
<text x="295.64" y="399.27" font-size="14.1" textLength="43.03" lengthAdjust="spacingAndGlyphs" >2 MYC</text>
<text x="49.92" y="451.35" font-size="13.9" text-anchor="middle" transform="rotate(-90 49.92 451.35)" textLength="60.14" lengthAdjust="spacingAndGlyphs" >Uninjured</text>
<text x="49.86" y="559.24" font-size="13.9" text-anchor="middle" transform="rotate(-90 49.86 559.24)" textLength="49.33" lengthAdjust="spacingAndGlyphs" >Post-MI</text>
<text x="29.46" y="500.62" font-size="14.1" text-anchor="middle" font-weight="bold" transform="rotate(-90 29.46 500.62)" textLength="35.19" lengthAdjust="spacingAndGlyphs" >WGA</text>
<text x="427.63" y="494.55" font-size="14.0" text-anchor="middle" transform="rotate(-90 427.63 494.55)" textLength="93.76" lengthAdjust="spacingAndGlyphs" >Cell area (µm<tspan font-size="0.55em" dy="-0.42em">2</tspan><tspan dy="0.42em">)</tspan></text>
<text x="460.61" y="445.77" font-size="14.8" text-anchor="end" textLength="23.1" lengthAdjust="spacingAndGlyphs" >400</text>
<text x="460.35" y="503.61" font-size="14.8" text-anchor="end" textLength="23.47" lengthAdjust="spacingAndGlyphs" >200</text>
<text x="461.62" y="562.66" font-size="14.8" text-anchor="end" textLength="9.04" lengthAdjust="spacingAndGlyphs" >0</text>
<text x="638.22" y="408.66" font-size="11.8" textLength="11.24" lengthAdjust="spacingAndGlyphs" >ns</text>
<text x="477.10" y="610.83" font-size="13.6" font-weight="bold" textLength="65.23" lengthAdjust="spacingAndGlyphs" >Uninjured</text>
<text x="596.89" y="610.37" font-size="13.6" font-weight="bold" textLength="50.89" lengthAdjust="spacingAndGlyphs" >Post-MI</text>
<text x="260.09" y="294.56" font-size="17.7" text-anchor="end" transform="rotate(-45 260.09 294.56)" >WT</text>
<text x="296.36" y="294.23" font-size="17.7" text-anchor="end" transform="rotate(-45 296.36 294.23)" >MYC</text>
<text x="330.42" y="294.94" font-size="17.7" text-anchor="end" transform="rotate(-45 330.42 294.94)" >2 MYC</text>
<text x="443.51" y="294.67" font-size="17.7" text-anchor="end" transform="rotate(-45 443.51 294.67)" >WT</text>
<text x="493.77" y="294.83" font-size="17.7" text-anchor="end" transform="rotate(-45 493.77 294.83)" >2 MYC</text>
<text x="600.49" y="293.98" font-size="17.7" text-anchor="end" transform="rotate(-45 600.49 293.98)" >WT</text>
<text x="638.20" y="295.22" font-size="17.7" text-anchor="end" transform="rotate(-45 638.20 295.22)" >MYC</text>
<text x="672.41" y="294.90" font-size="17.7" text-anchor="end" transform="rotate(-45 672.41 294.90)" >2 MYC</text>
<text x="488.65" y="567.93" font-size="14.1" text-anchor="end" transform="rotate(-45 488.65 567.93)" >WT</text>
<text x="516.57" y="567.76" font-size="14.1" text-anchor="end" transform="rotate(-45 516.57 567.76)" >MYC</text>
<text x="544.02" y="567.52" font-size="14.1" text-anchor="end" transform="rotate(-45 544.02 567.52)" >2 MYC</text>
<text x="594.46" y="569.74" font-size="14.1" text-anchor="end" transform="rotate(-45 594.46 569.74)" >WT</text>
<text x="624.64" y="568.18" font-size="14.1" text-anchor="end" transform="rotate(-45 624.64 568.18)" >MYC</text>
<text x="651.61" y="567.28" font-size="14.1" text-anchor="end" transform="rotate(-45 651.61 567.28)" >2 MYC</text>
</svg></body></html>
